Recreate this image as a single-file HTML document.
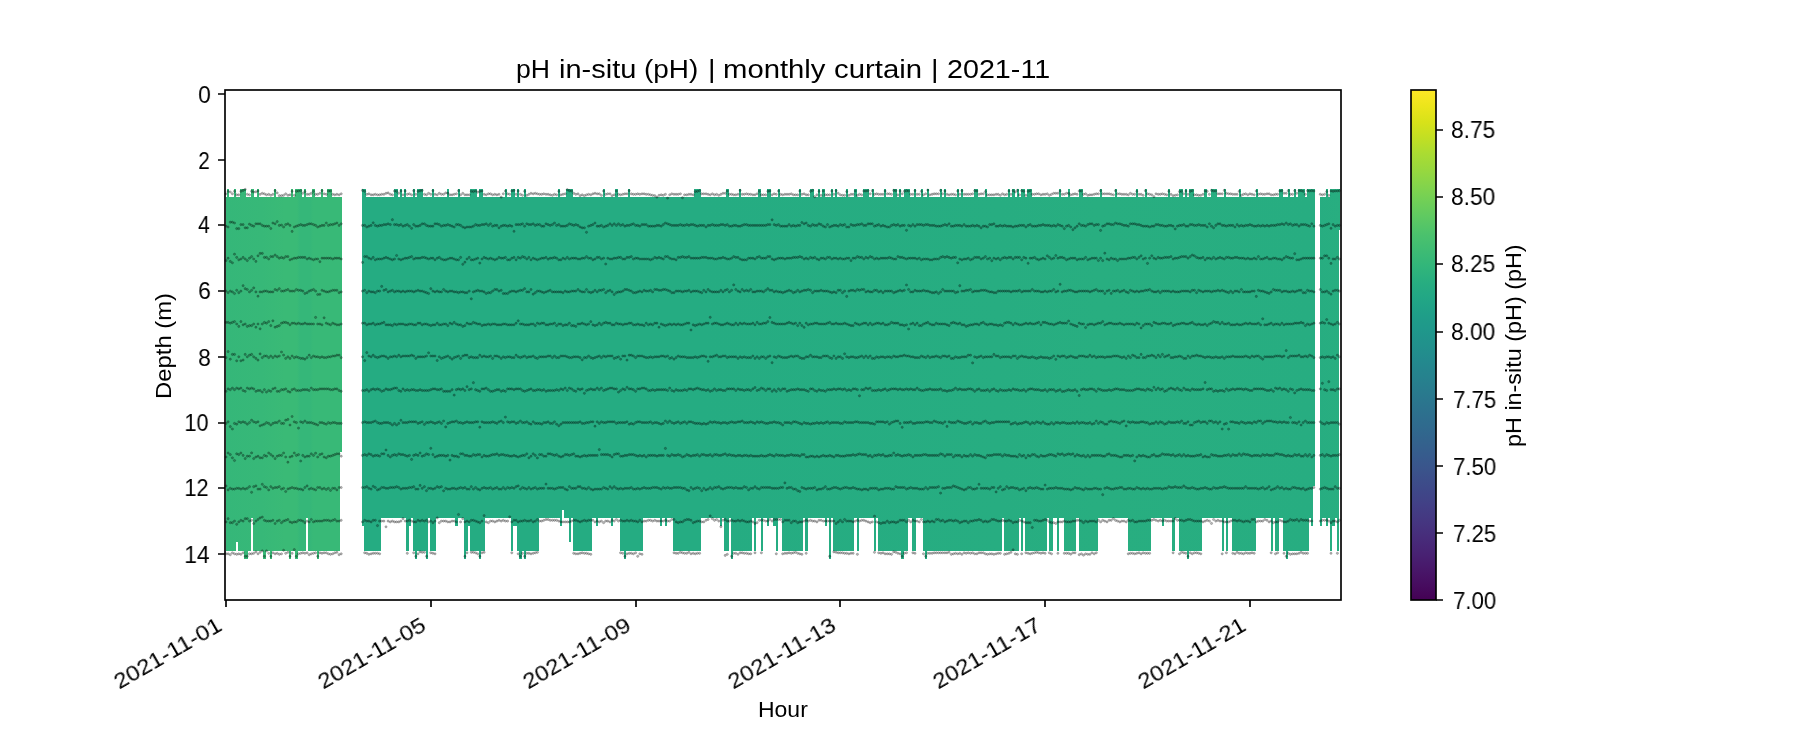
<!DOCTYPE html>
<html><head><meta charset="utf-8"><title>pH in-situ (pH) | monthly curtain | 2021-11</title>
<style>
html,body{margin:0;padding:0;background:#fff}
body{width:1800px;height:750px;position:relative;overflow:hidden;font-family:"Liberation Sans",sans-serif;color:#000}
.t{position:absolute;white-space:nowrap;line-height:1;font-size:21.3px;will-change:transform}
</style></head><body>
<svg width="1800" height="750" viewBox="0 0 1800 750" style="position:absolute;left:0;top:0">
<defs>
<linearGradient id="g" gradientUnits="userSpaceOnUse" x1="225" y1="0" x2="1341" y2="0"><stop offset="0.0009" stop-color="#35b779"/><stop offset="0.0332" stop-color="#37b878"/><stop offset="0.0538" stop-color="#3aba76"/><stop offset="0.0645" stop-color="#3aba76"/><stop offset="0.0672" stop-color="#35b779"/><stop offset="0.0762" stop-color="#35b779"/><stop offset="0.0789" stop-color="#38b977"/><stop offset="0.1047" stop-color="#38b977"/><stop offset="0.1048" stop-color="#25ac82"/><stop offset="0.1228" stop-color="#25ac82"/><stop offset="0.4256" stop-color="#25ac82"/><stop offset="0.6944" stop-color="#27ad81"/><stop offset="0.7841" stop-color="#28ae80"/><stop offset="0.9767" stop-color="#27ad81"/><stop offset="1.0000" stop-color="#28ae80"/></linearGradient>
<linearGradient id="cb" x1="0" y1="0" x2="0" y2="1"><stop offset="0.0000" stop-color="#fde725"/><stop offset="0.0312" stop-color="#ece51b"/><stop offset="0.0625" stop-color="#d8e219"/><stop offset="0.0938" stop-color="#c2df23"/><stop offset="0.1250" stop-color="#aadc32"/><stop offset="0.1562" stop-color="#98d83e"/><stop offset="0.1875" stop-color="#84d44b"/><stop offset="0.2188" stop-color="#70cf57"/><stop offset="0.2500" stop-color="#5ec962"/><stop offset="0.2812" stop-color="#4cc26c"/><stop offset="0.3125" stop-color="#3fbc73"/><stop offset="0.3438" stop-color="#32b67a"/><stop offset="0.3750" stop-color="#28ae80"/><stop offset="0.4062" stop-color="#22a785"/><stop offset="0.4375" stop-color="#1f9f88"/><stop offset="0.4688" stop-color="#1f988b"/><stop offset="0.5000" stop-color="#21918c"/><stop offset="0.5312" stop-color="#23898e"/><stop offset="0.5625" stop-color="#26828e"/><stop offset="0.5938" stop-color="#297a8e"/><stop offset="0.6250" stop-color="#2c728e"/><stop offset="0.6562" stop-color="#2f6b8e"/><stop offset="0.6875" stop-color="#33638d"/><stop offset="0.7188" stop-color="#375b8d"/><stop offset="0.7500" stop-color="#3b528b"/><stop offset="0.7812" stop-color="#3e4989"/><stop offset="0.8125" stop-color="#424086"/><stop offset="0.8438" stop-color="#453781"/><stop offset="0.8750" stop-color="#472d7b"/><stop offset="0.9062" stop-color="#482374"/><stop offset="0.9375" stop-color="#48186a"/><stop offset="0.9688" stop-color="#470d60"/><stop offset="1.0000" stop-color="#440154"/></linearGradient>
<marker id="d" markerUnits="userSpaceOnUse" markerWidth="6" markerHeight="6" refX="3" refY="3" orient="0"><circle cx="3" cy="3" r="1.12" fill="#000" fill-opacity=".28" stroke="#000" stroke-opacity=".28" stroke-width=".75"/></marker>
</defs>
<path d="M225.8 196.9H236V550.6H225.8zM236 196.9H238.1V541.9H236zM238.1 196.9H250.9V550.6H238.1zM250.9 196.9H253V517.5H250.9zM253 196.9H306V550.6H253zM306 196.9H308V517.5H306zM308 196.9H340V550.6H308zM340 196.9H341.9V452H340zM361.9 196.9H561.9V517.5H361.9zM561.9 196.9H564V510H561.9zM564 196.9H1313V517.5H564zM1313 196.9H1315V485.8H1313zM1320 196.9H1339V517.5H1320zM1339 196.9H1340.3V230H1339zM227.1 189H229V197.4H227.1zM234 189H236V197.4H234zM240 189H246V197.4H240zM251.25 189H254V197.4H251.25zM257 189H259V197.4H257zM274 189H276V197.4H274zM291 189H293V197.4H291zM295 189H302V197.4H295zM304 189H306V197.4H304zM312 189H315V197.4H312zM321 189H323V197.4H321zM327 189H332V197.4H327zM362 189H366V197.4H362zM394 189H398V197.4H394zM400 189H402V197.4H400zM404 189H406V197.4H404zM413 189H415V197.4H413zM417 189H423V197.4H417zM432 189H434V197.4H432zM447 189H449V197.4H447zM458 189H460V197.4H458zM470 189H477V197.4H470zM479 189H483V197.4H479zM505 189H507V197.4H505zM511 189H515V197.4H511zM517 189H519V197.4H517zM524 189H526V197.4H524zM558 189H560V197.4H558zM566 189H573V197.4H566zM603 189H605V197.4H603zM615 189H618V197.4H615zM628 189H630V197.4H628zM694 189H701V197.4H694zM726 189H729V197.4H726zM739 189H741V197.4H739zM758 189H761V197.4H758zM767 189H771V197.4H767zM778 189H780V197.4H778zM799 189H801V197.4H799zM810 189H814V197.4H810zM818 189H820V197.4H818zM822 189H825V197.4H822zM831 189H833V197.4H831zM835 189H837V197.4H835zM846 189H848V197.4H846zM854 189H857V197.4H854zM863 189H869V197.4H863zM872 189H874V197.4H872zM884 189H886V197.4H884zM893 189H897V197.4H893zM899 189H901V197.4H899zM904 189H910V197.4H904zM914 189H916V197.4H914zM921 189H923V197.4H921zM927 189H929V197.4H927zM940 189H942V197.4H940zM944 189H946V197.4H944zM957 189H959V197.4H957zM961 189H963V197.4H961zM974 189H978V197.4H974zM985 189H987V197.4H985zM1008 189H1010V197.4H1008zM1012 189H1015V197.4H1012zM1017 189H1019V197.4H1017zM1021 189H1025V197.4H1021zM1027 189H1032V197.4H1027zM1059 189H1061V197.4H1059zM1068 189H1070V197.4H1068zM1079 189H1083V197.4H1079zM1100 189H1102V197.4H1100zM1115 189H1117V197.4H1115zM1136 189H1138V197.4H1136zM1145 189H1147V197.4H1145zM1168 189H1170V197.4H1168zM1179 189H1183V197.4H1179zM1185 189H1187V197.4H1185zM1189 189H1194V197.4H1189zM1204 189H1207V197.4H1204zM1211 189H1217V197.4H1211zM1224 189H1226V197.4H1224zM1239 189H1241V197.4H1239zM1256 189H1258V197.4H1256zM1279 189H1283V197.4H1279zM1288 189H1290V197.4H1288zM1294 189H1296V197.4H1294zM1298 189H1305V197.4H1298zM1307 189H1315V197.4H1307zM1326.2 189H1328V197.4H1326.2zM1330 189H1340.3V197.4H1330zM362 517H364V525.6H362zM408.9 517H411.25V525.6H408.9zM455 517H457.9V525.6H455zM467.75 517H470V525.6H467.75zM512.9 517H516.9V525.6H512.9zM560 517H561.9V525.6H560zM596 517H597.9V525.6H596zM611 517H612.9V525.6H611zM660 517H661.9V525.6H660zM665 517H666.9V525.6H665zM720 517H721.9V525.6H720zM767 517H768.9V525.6H767zM773.1 517H776V525.6H773.1zM825 517H826.9V525.6H825zM1162.1 517H1163.9V525.6H1162.1zM1311 517H1313V525.6H1311zM1320 517H1322V525.6H1320zM1326 517H1328V525.6H1326zM1330 517H1335V525.6H1330zM364 517H380.9V550.6H364zM406 517H408.9V550.6H406zM413.1 517H428.1V550.6H413.1zM430 517H435.9V550.6H430zM464 517H467.75V550.6H464zM470 517H484.75V550.6H470zM511 517H512.9V550.6H511zM516.9 517H539V550.6H516.9zM572.9 517H591.9V550.6H572.9zM620 517H642.9V550.6H620zM673.1 517H700.9V550.6H673.1zM724 517H728.75V550.6H724zM731 517H751.9V550.6H731zM754 517H755.9V550.6H754zM761 517H762.9V550.6H761zM776 517H777.9V550.6H776zM782.1 517H802.9V550.6H782.1zM805 517H807.9V550.6H805zM829 517H830.9V550.6H829zM833.1 517H853.9V550.6H833.1zM857 517H858.9V550.6H857zM874 517H875.9V550.6H874zM878.1 517H907.75V550.6H878.1zM912.1 517H915.9V550.6H912.1zM923.1 517H1001.9V550.6H923.1zM1004.1 517H1018.75V550.6H1004.1zM1021 517H1022.9V550.6H1021zM1025 517H1046.9V550.6H1025zM1049.1 517H1052.9V550.6H1049.1zM1057.1 517H1058.9V550.6H1057.1zM1064 517H1075.9V550.6H1064zM1079.1 517H1097.9V550.6H1079.1zM1128.1 517H1150.9V550.6H1128.1zM1172.1 517H1174.9V550.6H1172.1zM1179.1 517H1201.9V550.6H1179.1zM1222.1 517H1223.9V550.6H1222.1zM1226.1 517H1227.9V550.6H1226.1zM1232.1 517H1255.9V550.6H1232.1zM1271.1 517H1272.9V550.6H1271.1zM1275.1 517H1278.9V550.6H1275.1zM1283.1 517H1308.9V550.6H1283.1zM1330 517H1332V550.6H1330zM1337 517H1339V550.6H1337zM244.1 550.1H247.75V558.75H244.1zM263.1 550.1H265.9V558.75H263.1zM270 550.1H271.9V558.75H270zM289.1 550.1H290.9V558.75H289.1zM295 550.1H297.75V558.75H295zM317.1 550.1H318.75V558.75H317.1zM415 550.1H416.9V558.75H415zM426 550.1H427.9V558.75H426zM464 550.1H465.9V558.75H464zM479 550.1H480.9V558.75H479zM519 550.1H521.9V558.75H519zM524 550.1H525.9V558.75H524zM624 550.1H625.9V558.75H624zM731 550.1H732.9V558.75H731zM829 550.1H830.9V558.75H829zM901 550.1H903.75V558.75H901zM925 550.1H926.9V558.75H925zM1187.1 550.1H1188.9V558.75H1187.1zM1286.1 550.1H1287.9V558.75H1286.1zM569.1 517H570.9V541.6H569.1z" fill="url(#g)" shape-rendering="crispEdges"/>
<g fill="none" stroke="none" marker-start="url(#d)" marker-mid="url(#d)" marker-end="url(#d)">
<polyline points="226.0,193.8 228.1,191.3 230.3,192.0 232.4,193.8 234.5,191.3 236.7,194.8 238.8,194.8 240.9,191.3 243.1,190.4 245.2,189.4 247.3,194.3 249.5,194.8 251.6,191.3 253.7,192.0 255.9,191.8 258.0,191.0 260.1,194.3 262.3,193.3 264.4,193.8 266.5,194.8 268.7,194.3 270.8,195.3 272.9,194.3 275.1,190.7 277.2,192.9 279.3,195.7 281.5,195.7 283.6,195.3 285.7,193.8 287.9,195.3 290.0,194.8 292.1,191.3 294.3,195.3 296.4,191.3 298.5,191.0 300.7,190.7 302.8,193.3 304.9,191.6 307.1,194.3 309.2,194.3 311.3,193.3 313.5,191.3 315.6,194.3 317.7,194.3 319.9,193.3 322.0,190.7 324.1,193.8 326.3,194.3 328.4,191.0 330.5,191.0 332.7,194.3 334.8,194.8 336.9,194.3 339.1,194.8 341.2,193.8 362.5,190.4 364.7,191.3 366.8,194.3 368.9,193.8 371.1,194.8 373.2,194.8 375.3,194.3 377.5,194.8 379.6,194.8 381.7,194.3 383.9,194.3 386.0,193.3 388.1,192.9 390.3,194.3 392.4,194.8 394.5,191.0 396.6,191.3 398.8,193.3 400.9,191.0 403.0,194.8 405.2,191.0 407.3,194.3 409.4,193.8 411.6,194.8 413.7,190.7 415.8,194.3 418.0,191.3 420.1,190.7 422.2,190.4 424.4,194.3 426.5,194.8 428.6,193.3 430.8,194.3 432.9,190.7 435.0,194.3 437.2,194.8 439.3,193.3 441.4,194.3 443.6,194.3 445.7,192.9 447.8,193.2 450.0,194.8 452.1,194.8 454.2,194.3 456.4,193.8 458.5,190.7 460.6,194.8 462.8,193.3 464.9,194.8 467.0,194.8 469.2,194.8 471.3,191.3 473.4,191.6 475.6,191.0 477.7,192.2 479.8,191.3 482.0,191.0 484.1,194.3 486.2,194.8 488.4,193.8 490.5,193.8 492.6,194.8 494.8,194.3 496.9,194.8 499.0,194.3 501.2,197.1 503.3,193.8 505.4,191.0 507.6,193.8 509.7,194.3 511.8,191.0 514.0,190.4 516.1,194.3 518.2,191.0 520.4,194.3 522.5,195.3 524.6,191.3 526.8,195.3 528.9,194.3 531.0,193.3 533.2,193.8 535.3,193.3 537.4,193.8 539.6,194.3 541.7,194.3 543.8,193.8 546.0,194.3 548.1,194.3 550.2,194.8 552.4,195.3 554.5,194.3 556.6,194.8 558.8,191.3 560.9,194.8 563.0,194.3 565.2,193.8 567.3,189.7 569.4,190.7 571.6,191.0 573.7,193.3 575.8,194.3 578.0,193.8 580.1,195.7 582.2,194.8 584.4,195.7 586.5,194.8 588.6,194.3 590.8,194.8 592.9,193.8 595.0,193.3 597.2,193.8 599.3,193.8 601.4,195.3 603.6,191.0 605.7,194.3 607.8,193.8 610.0,193.8 612.1,195.7 614.2,194.8 616.4,191.0 618.5,194.3 620.6,194.8 622.8,194.3 624.9,193.8 627.0,193.8 629.2,190.7 631.3,193.8 633.4,194.3 635.6,194.3 637.7,193.8 639.8,194.3 642.0,193.8 644.1,193.8 646.2,194.3 648.4,194.3 650.5,194.8 652.6,195.3 654.8,195.7 656.9,197.1 659.0,195.3 661.2,194.8 663.3,195.3 665.4,194.3 667.6,198.1 669.7,194.8 671.8,193.8 674.0,194.3 676.1,194.3 678.2,194.3 680.4,193.8 682.5,197.7 684.6,194.8 686.8,194.8 688.9,194.3 691.0,194.3 693.2,194.8 695.3,191.6 697.4,191.3 699.6,190.7 701.7,193.8 703.8,193.8 706.0,193.8 708.1,194.3 710.2,194.8 712.4,193.8 714.5,194.8 716.6,194.3 718.8,195.3 720.9,194.3 723.0,193.3 725.2,193.3 727.3,191.0 729.4,194.3 731.6,194.3 733.7,194.8 735.8,194.8 738.0,194.3 740.1,190.4 742.2,194.3 744.3,194.3 746.5,193.8 748.6,194.3 750.7,194.3 752.9,194.8 755.0,194.8 757.1,193.8 759.3,191.3 761.4,194.8 763.5,194.8 765.7,194.8 767.8,191.3 769.9,191.0 772.1,194.8 774.2,193.8 776.3,194.3 778.5,191.0 780.6,194.3 782.7,194.8 784.9,194.3 787.0,194.3 789.1,194.3 791.3,193.8 793.4,194.8 795.5,194.8 797.7,194.8 799.8,191.0 801.9,194.3 804.1,193.8 806.2,194.8 808.3,194.8 810.5,191.3 812.6,190.4 814.7,196.7 816.9,194.8 819.0,191.3 821.1,195.3 823.3,191.0 825.4,194.8 827.5,194.8 829.7,194.8 831.8,191.0 833.9,194.3 836.1,190.7 838.2,193.3 840.3,194.8 842.5,195.3 844.6,195.3 846.7,191.6 848.9,195.3 851.0,194.3 853.1,194.3 855.3,191.0 857.4,195.3 859.5,194.3 861.7,194.8 863.8,191.0 865.9,191.0 868.1,190.7 870.2,193.8 872.3,190.7 874.5,194.3 876.6,193.8 878.7,194.3 880.9,194.3 883.0,194.3 885.1,191.0 887.3,193.8 889.4,193.8 891.5,194.3 893.7,190.4 895.8,190.7 897.9,194.8 900.1,191.0 902.2,193.8 904.3,191.3 906.5,190.7 908.6,191.0 910.7,194.3 912.9,194.3 915.0,190.7 917.1,194.3 919.3,194.3 921.4,191.3 923.5,194.8 925.7,193.8 927.8,190.1 929.9,194.8 932.1,194.3 934.2,193.8 936.3,193.8 938.5,193.8 940.6,190.4 942.7,193.8 944.9,191.0 947.0,194.3 949.1,194.8 951.3,194.3 953.4,194.3 955.5,194.8 957.7,191.0 959.8,194.3 961.9,190.7 964.1,194.3 966.2,194.3 968.3,194.3 970.5,194.3 972.6,193.8 974.7,190.7 976.9,191.0 979.0,194.3 981.1,193.8 983.3,193.8 985.4,191.6 987.5,194.8 989.7,194.8 991.8,194.8 993.9,194.8 996.1,194.3 998.2,194.3 1000.3,195.3 1002.5,193.8 1004.6,194.8 1006.7,194.3 1008.9,191.0 1011.0,194.3 1013.1,190.7 1015.3,191.9 1017.4,190.4 1019.5,194.8 1021.7,190.7 1023.8,191.3 1025.9,195.3 1028.1,191.3 1030.2,190.7 1032.3,194.3 1034.5,194.3 1036.6,193.8 1038.7,193.8 1040.9,194.8 1043.0,194.3 1045.1,194.3 1047.3,193.8 1049.4,195.3 1051.5,194.3 1053.7,193.3 1055.8,193.3 1057.9,193.3 1060.1,191.0 1062.2,194.3 1064.3,194.3 1066.5,193.3 1068.6,193.3 1070.7,194.8 1072.9,194.3 1075.0,193.8 1077.1,194.3 1079.2,191.0 1081.4,191.0 1083.5,194.3 1085.6,193.8 1087.8,195.3 1089.9,194.8 1092.0,194.8 1094.2,194.3 1096.3,193.8 1098.4,193.8 1100.6,190.7 1102.7,193.8 1104.8,193.8 1107.0,193.8 1109.1,193.8 1111.2,194.3 1113.4,194.8 1115.5,190.7 1117.6,193.8 1119.8,193.8 1121.9,194.3 1124.0,194.3 1126.2,194.3 1128.3,194.8 1130.4,193.3 1132.6,194.3 1134.7,194.3 1136.8,191.3 1139.0,194.3 1141.1,194.3 1143.2,195.3 1145.4,190.7 1147.5,193.8 1149.6,194.3 1151.8,194.8 1153.9,196.6 1156.0,193.8 1158.2,194.3 1160.3,194.3 1162.4,193.8 1164.6,194.3 1166.7,194.8 1168.8,191.3 1171.0,194.3 1173.1,195.7 1175.2,195.3 1177.4,194.8 1179.5,191.6 1181.6,191.3 1183.8,193.8 1185.9,191.0 1188.0,194.3 1190.2,191.3 1192.3,190.7 1194.4,194.8 1196.6,194.8 1198.7,195.3 1200.8,195.3 1203.0,194.3 1205.1,191.0 1207.2,191.3 1209.4,194.3 1211.5,190.4 1213.6,191.0 1215.8,191.0 1217.9,193.8 1220.0,193.8 1222.2,193.8 1224.3,190.4 1226.4,193.3 1228.6,193.8 1230.7,193.8 1232.8,194.3 1235.0,194.3 1237.1,194.3 1239.2,191.3 1241.4,195.3 1243.5,194.3 1245.6,193.8 1247.8,194.8 1249.9,193.8 1252.0,194.3 1254.2,194.8 1256.3,191.0 1258.4,194.3 1260.6,193.8 1262.7,194.3 1264.8,194.3 1267.0,193.8 1269.1,193.8 1271.2,194.8 1273.4,194.8 1275.5,194.3 1277.6,194.3 1279.8,191.0 1281.9,190.7 1284.0,193.3 1286.2,193.3 1288.3,190.7 1290.4,194.3 1292.6,194.3 1294.7,190.7 1296.8,193.3 1299.0,190.7 1301.1,190.7 1303.2,191.3 1305.4,194.3 1307.5,190.7 1309.6,191.0 1311.8,190.7 1313.9,191.0 1320.3,194.3 1322.4,194.8 1324.6,194.3 1326.7,191.6 1328.8,195.3 1331.0,191.0 1333.1,191.3 1335.2,191.0 1337.4,191.0 1339.5,190.7"/>
<polyline points="226.0,226.2 228.1,227.0 230.3,222.2 232.4,222.2 234.5,223.0 236.7,228.6 238.8,228.6 240.9,224.6 243.1,224.6 245.2,227.8 247.3,227.8 249.5,224.2 251.6,225.4 253.7,226.2 255.9,223.8 258.0,223.8 260.1,223.8 262.3,225.4 264.4,226.2 266.5,226.2 268.7,226.2 270.8,228.5 272.9,223.0 275.1,223.8 277.2,221.6 279.3,225.4 281.5,225.1 283.6,227.0 285.7,224.6 287.9,223.8 290.0,225.4 292.1,231.4 294.3,227.0 296.4,226.2 298.5,225.4 300.7,224.6 302.8,225.4 304.9,225.4 307.1,224.6 309.2,223.8 311.3,223.8 313.5,224.6 315.6,225.4 317.7,227.0 319.9,226.2 322.0,225.4 324.1,225.4 326.3,223.0 328.4,225.4 330.5,224.6 332.7,224.6 334.8,223.8 336.9,223.0 339.1,225.4 341.2,223.8 362.5,225.4 364.7,225.4 366.8,227.0 368.9,226.2 371.1,225.4 373.2,222.8 375.3,225.4 377.5,226.2 379.6,225.4 381.7,225.4 383.9,224.6 386.0,224.6 388.1,223.8 390.3,224.6 392.4,219.7 394.5,224.6 396.6,224.6 398.8,225.4 400.9,224.6 403.0,226.2 405.2,225.4 407.3,224.6 409.4,226.2 411.6,228.3 413.7,224.6 415.8,226.2 418.0,226.2 420.1,225.4 422.2,223.8 424.4,223.8 426.5,225.4 428.6,226.2 430.8,226.2 432.9,226.2 435.0,223.8 437.2,223.8 439.3,224.6 441.4,226.2 443.6,225.4 445.7,225.4 447.8,224.6 450.0,225.4 452.1,226.2 454.2,227.0 456.4,224.6 458.5,224.6 460.6,225.4 462.8,227.0 464.9,227.8 467.0,227.0 469.2,227.0 471.3,227.0 473.4,226.2 475.6,224.6 477.7,225.4 479.8,225.4 482.0,224.6 484.1,224.6 486.2,223.8 488.4,225.4 490.5,223.8 492.6,226.2 494.8,225.4 496.9,225.4 499.0,227.8 501.2,226.2 503.3,225.4 505.4,225.4 507.6,226.2 509.7,225.4 511.8,226.2 514.0,231.3 516.1,224.6 518.2,224.6 520.4,224.6 522.5,223.8 524.6,226.2 526.8,223.8 528.9,224.6 531.0,224.6 533.2,223.8 535.3,225.4 537.4,224.6 539.6,224.6 541.7,226.2 543.8,226.2 546.0,223.8 548.1,224.6 550.2,225.4 552.4,224.6 554.5,223.0 556.6,225.4 558.8,224.6 560.9,226.2 563.0,226.2 565.2,226.2 567.3,225.4 569.4,223.8 571.6,224.6 573.7,225.4 575.8,224.6 578.0,225.4 580.1,227.0 582.2,227.8 584.4,227.8 586.5,232.3 588.6,226.2 590.8,225.4 592.9,224.6 595.0,223.0 597.2,226.2 599.3,226.2 601.4,225.4 603.6,227.0 605.7,226.2 607.8,225.4 610.0,223.8 612.1,225.4 614.2,223.8 616.4,225.4 618.5,223.8 620.6,225.4 622.8,224.6 624.9,226.2 627.0,225.4 629.2,225.4 631.3,224.6 633.4,223.8 635.6,225.4 637.7,225.4 639.8,226.2 642.0,224.6 644.1,224.6 646.2,224.6 648.4,226.2 650.5,226.2 652.6,226.2 654.8,226.2 656.9,225.4 659.0,225.4 661.2,226.2 663.3,224.6 665.4,223.0 667.6,223.8 669.7,224.6 671.8,225.4 674.0,225.4 676.1,225.4 678.2,225.4 680.4,224.6 682.5,225.4 684.6,225.4 686.8,224.6 688.9,225.4 691.0,224.6 693.2,224.6 695.3,225.4 697.4,226.2 699.6,225.4 701.7,225.4 703.8,225.4 706.0,227.0 708.1,225.4 710.2,225.4 712.4,224.6 714.5,225.4 716.6,225.4 718.8,225.4 720.9,224.6 723.0,224.6 725.2,225.4 727.3,224.6 729.4,226.2 731.6,226.2 733.7,225.4 735.8,225.4 738.0,226.2 740.1,226.2 742.2,225.4 744.3,224.6 746.5,224.6 748.6,225.4 750.7,225.4 752.9,225.4 755.0,225.4 757.1,225.4 759.3,225.4 761.4,225.4 763.5,225.4 765.7,225.4 767.8,224.6 769.9,224.6 772.1,219.8 774.2,224.6 776.3,225.4 778.5,224.6 780.6,226.2 782.7,226.2 784.9,226.2 787.0,226.2 789.1,224.6 791.3,226.2 793.4,225.4 795.5,226.2 797.7,225.4 799.8,225.4 801.9,222.5 804.1,223.8 806.2,223.0 808.3,225.4 810.5,226.2 812.6,224.6 814.7,225.4 816.9,225.4 819.0,223.8 821.1,224.6 823.3,226.2 825.4,227.0 827.5,224.6 829.7,227.0 831.8,226.2 833.9,225.4 836.1,225.4 838.2,226.2 840.3,224.6 842.5,225.4 844.6,224.6 846.7,227.0 848.9,227.0 851.0,224.6 853.1,225.4 855.3,225.4 857.4,224.6 859.5,224.6 861.7,223.8 863.8,225.4 865.9,225.4 868.1,223.8 870.2,223.8 872.3,223.8 874.5,226.2 876.6,225.4 878.7,224.6 880.9,226.2 883.0,225.4 885.1,226.2 887.3,227.0 889.4,227.0 891.5,225.4 893.7,224.6 895.8,225.4 897.9,224.6 900.1,226.2 902.2,225.4 904.3,225.4 906.5,230.3 908.6,225.4 910.7,226.2 912.9,224.6 915.0,226.2 917.1,224.6 919.3,224.6 921.4,224.6 923.5,225.4 925.7,224.6 927.8,224.6 929.9,225.4 932.1,225.4 934.2,225.4 936.3,226.2 938.5,226.2 940.6,226.2 942.7,225.4 944.9,224.6 947.0,225.4 949.1,223.8 951.3,226.2 953.4,226.2 955.5,225.4 957.7,225.4 959.8,225.4 961.9,226.2 964.1,224.6 966.2,226.2 968.3,226.2 970.5,226.2 972.6,225.4 974.7,226.2 976.9,225.4 979.0,226.2 981.1,227.8 983.3,226.2 985.4,226.2 987.5,227.0 989.7,224.6 991.8,224.6 993.9,223.8 996.1,226.2 998.2,226.2 1000.3,225.4 1002.5,226.2 1004.6,225.4 1006.7,226.2 1008.9,226.2 1011.0,226.2 1013.1,227.0 1015.3,226.2 1017.4,226.2 1019.5,225.4 1021.7,225.4 1023.8,225.4 1025.9,227.0 1028.1,225.4 1030.2,224.6 1032.3,226.2 1034.5,226.2 1036.6,226.2 1038.7,225.4 1040.9,225.4 1043.0,224.6 1045.1,225.4 1047.3,225.4 1049.4,225.4 1051.5,226.2 1053.7,225.4 1055.8,226.2 1057.9,224.6 1060.1,225.4 1062.2,226.2 1064.3,228.6 1066.5,226.2 1068.6,225.4 1070.7,227.0 1072.9,229.7 1075.0,227.8 1077.1,226.2 1079.2,223.8 1081.4,225.4 1083.5,225.4 1085.6,226.2 1087.8,224.6 1089.9,223.8 1092.0,223.8 1094.2,225.4 1096.3,224.6 1098.4,224.6 1100.6,230.4 1102.7,226.2 1104.8,225.4 1107.0,223.8 1109.1,223.8 1111.2,224.6 1113.4,224.6 1115.5,223.0 1117.6,223.8 1119.8,223.8 1121.9,224.6 1124.0,225.4 1126.2,225.4 1128.3,226.2 1130.4,223.8 1132.6,223.8 1134.7,223.8 1136.8,224.6 1139.0,224.6 1141.1,225.4 1143.2,226.2 1145.4,226.2 1147.5,226.2 1149.6,227.0 1151.8,226.2 1153.9,226.2 1156.0,224.6 1158.2,224.6 1160.3,225.4 1162.4,225.4 1164.6,226.2 1166.7,226.2 1168.8,225.4 1171.0,225.4 1173.1,226.2 1175.2,228.9 1177.4,226.2 1179.5,225.4 1181.6,225.4 1183.8,224.6 1185.9,226.2 1188.0,226.2 1190.2,224.6 1192.3,224.6 1194.4,225.4 1196.6,225.4 1198.7,224.6 1200.8,225.4 1203.0,225.4 1205.1,225.4 1207.2,227.0 1209.4,223.8 1211.5,226.2 1213.6,227.8 1215.8,225.4 1217.9,223.8 1220.0,223.8 1222.2,225.4 1224.3,225.4 1226.4,226.2 1228.6,225.4 1230.7,225.4 1232.8,225.4 1235.0,227.0 1237.1,224.6 1239.2,226.2 1241.4,225.4 1243.5,226.2 1245.6,225.4 1247.8,225.4 1249.9,224.6 1252.0,225.4 1254.2,226.2 1256.3,226.2 1258.4,225.4 1260.6,226.2 1262.7,225.4 1264.8,226.2 1267.0,225.4 1269.1,226.2 1271.2,225.4 1273.4,225.4 1275.5,225.4 1277.6,224.6 1279.8,224.6 1281.9,223.8 1284.0,224.6 1286.2,223.0 1288.3,224.6 1290.4,223.8 1292.6,225.4 1294.7,224.6 1296.8,224.6 1299.0,226.2 1301.1,224.6 1303.2,224.6 1305.4,224.6 1307.5,225.4 1309.6,226.2 1311.8,223.8 1313.9,226.2 1320.3,225.4 1322.4,226.2 1324.6,225.4 1326.7,224.6 1328.8,223.8 1331.0,228.3 1333.1,224.6 1335.2,226.2 1337.4,225.4 1339.5,225.4"/>
<polyline points="226.0,260.6 228.1,258.2 230.3,261.4 232.4,262.8 234.5,254.2 236.7,257.4 238.8,259.8 240.9,259.0 243.1,257.4 245.2,259.0 247.3,260.6 249.5,258.2 251.6,256.6 253.7,259.0 255.9,261.4 258.0,255.8 260.1,253.4 262.3,253.4 264.4,257.4 266.5,257.4 268.7,259.0 270.8,256.6 272.9,256.6 275.1,255.0 277.2,256.6 279.3,258.2 281.5,257.4 283.6,258.2 285.7,256.6 287.9,256.6 290.0,259.8 292.1,259.0 294.3,258.2 296.4,258.2 298.5,257.4 300.7,257.4 302.8,257.4 304.9,257.4 307.1,259.0 309.2,258.2 311.3,259.0 313.5,259.8 315.6,259.0 317.7,259.0 319.9,261.7 322.0,258.2 324.1,258.2 326.3,258.2 328.4,258.2 330.5,258.2 332.7,259.0 334.8,258.2 336.9,258.2 339.1,258.2 341.2,259.0 362.5,262.4 364.7,256.6 366.8,256.6 368.9,258.2 371.1,259.0 373.2,257.4 375.3,259.8 377.5,259.0 379.6,259.0 381.7,259.0 383.9,258.2 386.0,257.4 388.1,258.2 390.3,259.0 392.4,259.8 394.5,259.0 396.6,255.5 398.8,259.0 400.9,259.8 403.0,259.0 405.2,258.2 407.3,258.2 409.4,257.4 411.6,256.6 413.7,259.0 415.8,258.2 418.0,258.2 420.1,258.2 422.2,257.4 424.4,257.4 426.5,258.2 428.6,259.0 430.8,258.2 432.9,258.2 435.0,259.8 437.2,258.2 439.3,257.4 441.4,259.0 443.6,259.8 445.7,259.8 447.8,259.0 450.0,258.2 452.1,258.2 454.2,259.0 456.4,259.8 458.5,259.8 460.6,257.4 462.8,264.3 464.9,262.2 467.0,259.0 469.2,257.4 471.3,259.8 473.4,259.8 475.6,259.0 477.7,258.2 479.8,263.1 482.0,259.0 484.1,257.4 486.2,258.2 488.4,259.0 490.5,258.2 492.6,259.0 494.8,259.8 496.9,259.0 499.0,257.4 501.2,258.2 503.3,258.2 505.4,257.4 507.6,259.8 509.7,259.8 511.8,258.2 514.0,257.4 516.1,259.8 518.2,257.4 520.4,258.2 522.5,256.6 524.6,257.4 526.8,259.0 528.9,257.4 531.0,259.8 533.2,258.2 535.3,259.0 537.4,259.8 539.6,259.0 541.7,258.2 543.8,258.2 546.0,257.4 548.1,259.2 550.2,258.2 552.4,258.2 554.5,257.4 556.6,258.2 558.8,259.8 560.9,259.8 563.0,258.2 565.2,259.0 567.3,257.4 569.4,259.0 571.6,258.2 573.7,258.2 575.8,258.2 578.0,259.0 580.1,259.0 582.2,258.2 584.4,258.2 586.5,256.6 588.6,258.2 590.8,258.2 592.9,259.8 595.0,259.0 597.2,257.4 599.3,257.4 601.4,259.0 603.6,258.2 605.7,264.0 607.8,258.2 610.0,259.0 612.1,259.0 614.2,258.2 616.4,258.2 618.5,257.4 620.6,257.4 622.8,259.0 624.9,259.0 627.0,257.4 629.2,257.4 631.3,256.6 633.4,259.0 635.6,258.2 637.7,258.2 639.8,259.0 642.0,259.0 644.1,259.0 646.2,259.0 648.4,259.0 650.5,259.8 652.6,259.0 654.8,257.4 656.9,258.2 659.0,257.4 661.2,258.2 663.3,259.0 665.4,256.6 667.6,256.6 669.7,258.2 671.8,259.0 674.0,259.0 676.1,259.8 678.2,257.4 680.4,257.4 682.5,256.6 684.6,257.4 686.8,257.4 688.9,256.6 691.0,258.2 693.2,258.2 695.3,258.2 697.4,258.2 699.6,258.2 701.7,257.4 703.8,257.4 706.0,257.4 708.1,258.2 710.2,258.2 712.4,258.2 714.5,259.0 716.6,259.0 718.8,258.2 720.9,258.2 723.0,257.4 725.2,258.2 727.3,259.0 729.4,259.0 731.6,258.2 733.7,256.6 735.8,257.4 738.0,257.4 740.1,259.0 742.2,259.8 744.3,259.8 746.5,259.8 748.6,258.2 750.7,258.2 752.9,258.2 755.0,259.0 757.1,257.4 759.3,256.6 761.4,258.2 763.5,258.2 765.7,258.2 767.8,256.6 769.9,256.6 772.1,259.0 774.2,259.8 776.3,259.0 778.5,258.2 780.6,258.2 782.7,258.2 784.9,259.0 787.0,258.2 789.1,258.2 791.3,258.2 793.4,257.4 795.5,257.4 797.7,257.4 799.8,256.6 801.9,257.4 804.1,259.0 806.2,258.2 808.3,259.0 810.5,257.4 812.6,258.2 814.7,257.4 816.9,259.0 819.0,259.8 821.1,258.2 823.3,258.2 825.4,259.0 827.5,257.4 829.7,257.4 831.8,259.0 833.9,258.2 836.1,258.2 838.2,259.0 840.3,258.2 842.5,259.0 844.6,259.0 846.7,258.2 848.9,258.2 851.0,260.6 853.1,258.2 855.3,258.2 857.4,256.6 859.5,257.4 861.7,257.4 863.8,259.0 865.9,257.4 868.1,258.2 870.2,256.6 872.3,257.4 874.5,259.0 876.6,258.2 878.7,259.0 880.9,258.2 883.0,258.2 885.1,258.2 887.3,258.2 889.4,257.4 891.5,258.2 893.7,259.0 895.8,259.0 897.9,256.6 900.1,257.4 902.2,257.4 904.3,258.2 906.5,259.0 908.6,258.2 910.7,258.2 912.9,258.2 915.0,258.2 917.1,259.0 919.3,258.2 921.4,259.8 923.5,259.0 925.7,259.0 927.8,259.0 929.9,259.8 932.1,259.8 934.2,259.0 936.3,259.0 938.5,259.0 940.6,257.4 942.7,256.6 944.9,257.4 947.0,256.6 949.1,257.4 951.3,258.2 953.4,257.4 955.5,257.4 957.7,262.8 959.8,259.0 961.9,259.8 964.1,259.0 966.2,259.0 968.3,258.2 970.5,259.8 972.6,259.0 974.7,257.4 976.9,257.4 979.0,257.4 981.1,259.0 983.3,258.2 985.4,256.6 987.5,259.0 989.7,258.2 991.8,260.7 993.9,258.2 996.1,259.0 998.2,258.2 1000.3,259.8 1002.5,258.2 1004.6,257.4 1006.7,258.2 1008.9,257.4 1011.0,257.4 1013.1,259.0 1015.3,257.4 1017.4,257.4 1019.5,257.4 1021.7,259.8 1023.8,257.4 1025.9,258.2 1028.1,263.3 1030.2,258.2 1032.3,258.2 1034.5,257.4 1036.6,259.0 1038.7,259.8 1040.9,259.0 1043.0,258.2 1045.1,259.0 1047.3,255.8 1049.4,257.4 1051.5,259.0 1053.7,258.2 1055.8,255.5 1057.9,258.2 1060.1,257.4 1062.2,257.4 1064.3,258.2 1066.5,259.8 1068.6,259.0 1070.7,258.2 1072.9,258.2 1075.0,258.2 1077.1,259.8 1079.2,259.0 1081.4,259.0 1083.5,259.0 1085.6,257.4 1087.8,259.8 1089.9,259.0 1092.0,258.2 1094.2,258.2 1096.3,258.2 1098.4,260.5 1100.6,258.2 1102.7,260.6 1104.8,253.2 1107.0,259.0 1109.1,259.8 1111.2,258.2 1113.4,259.0 1115.5,259.0 1117.6,260.6 1119.8,259.0 1121.9,259.0 1124.0,259.0 1126.2,259.0 1128.3,258.2 1130.4,258.2 1132.6,257.4 1134.7,257.4 1136.8,259.0 1139.0,257.4 1141.1,255.8 1143.2,259.0 1145.4,258.2 1147.5,263.4 1149.6,258.2 1151.8,255.8 1153.9,258.2 1156.0,259.0 1158.2,257.4 1160.3,258.2 1162.4,258.2 1164.6,257.4 1166.7,257.4 1168.8,257.4 1171.0,256.6 1173.1,259.0 1175.2,258.2 1177.4,258.2 1179.5,257.4 1181.6,256.6 1183.8,256.6 1185.9,256.6 1188.0,258.2 1190.2,256.6 1192.3,255.0 1194.4,255.8 1196.6,257.4 1198.7,258.2 1200.8,258.2 1203.0,257.4 1205.1,259.8 1207.2,258.2 1209.4,258.2 1211.5,259.0 1213.6,257.4 1215.8,259.0 1217.9,258.2 1220.0,257.4 1222.2,258.2 1224.3,259.0 1226.4,257.4 1228.6,257.4 1230.7,258.2 1232.8,258.2 1235.0,257.4 1237.1,257.4 1239.2,258.2 1241.4,258.2 1243.5,258.2 1245.6,259.0 1247.8,258.2 1249.9,259.0 1252.0,259.0 1254.2,258.2 1256.3,259.0 1258.4,256.6 1260.6,259.0 1262.7,259.0 1264.8,258.2 1267.0,257.4 1269.1,259.0 1271.2,259.0 1273.4,258.2 1275.5,258.2 1277.6,259.0 1279.8,259.0 1281.9,259.8 1284.0,258.2 1286.2,256.6 1288.3,257.4 1290.4,258.2 1292.6,258.2 1294.7,253.7 1296.8,259.8 1299.0,259.8 1301.1,259.0 1303.2,258.2 1305.4,258.2 1307.5,258.2 1309.6,258.2 1311.8,258.2 1313.9,258.2 1320.3,258.2 1322.4,258.2 1324.6,255.8 1326.7,255.8 1328.8,258.2 1331.0,263.4 1333.1,259.0 1335.2,259.0 1337.4,257.4 1339.5,259.0"/>
<polyline points="226.0,291.1 228.1,292.7 230.3,291.1 232.4,291.9 234.5,293.5 236.7,290.3 238.8,292.7 240.9,291.1 243.1,285.7 245.2,288.7 247.3,289.5 249.5,291.9 251.6,290.3 253.7,287.9 255.9,291.9 258.0,296.2 260.1,291.9 262.3,291.9 264.4,291.1 266.5,291.1 268.7,291.9 270.8,291.9 272.9,291.9 275.1,289.5 277.2,290.3 279.3,288.7 281.5,291.1 283.6,291.1 285.7,290.3 287.9,289.5 290.0,291.1 292.1,291.1 294.3,291.1 296.4,289.5 298.5,290.3 300.7,290.3 302.8,291.1 304.9,293.5 307.1,292.7 309.2,291.1 311.3,290.3 313.5,289.5 315.6,291.1 317.7,294.5 319.9,294.3 322.0,290.3 324.1,291.1 326.3,291.9 328.4,291.9 330.5,291.1 332.7,290.3 334.8,290.3 336.9,290.3 339.1,292.7 341.2,291.9 362.5,291.1 364.7,290.3 366.8,292.7 368.9,291.1 371.1,291.9 373.2,291.9 375.3,292.7 377.5,291.1 379.6,291.1 381.7,286.4 383.9,290.3 386.0,289.5 388.1,291.9 390.3,291.1 392.4,290.3 394.5,291.9 396.6,291.1 398.8,291.1 400.9,291.9 403.0,291.1 405.2,291.9 407.3,291.1 409.4,291.1 411.6,291.1 413.7,291.9 415.8,291.1 418.0,290.3 420.1,291.1 422.2,291.1 424.4,291.9 426.5,292.7 428.6,293.5 430.8,288.7 432.9,291.1 435.0,291.9 437.2,291.1 439.3,291.9 441.4,291.9 443.6,289.5 445.7,291.1 447.8,291.9 450.0,291.1 452.1,291.1 454.2,291.9 456.4,291.9 458.5,292.7 460.6,291.9 462.8,291.9 464.9,292.7 467.0,292.7 469.2,291.1 471.3,298.8 473.4,291.9 475.6,291.1 477.7,290.3 479.8,291.1 482.0,291.1 484.1,291.9 486.2,293.5 488.4,292.7 490.5,292.7 492.6,291.1 494.8,289.5 496.9,289.5 499.0,291.1 501.2,290.3 503.3,293.5 505.4,293.5 507.6,293.5 509.7,291.9 511.8,291.1 514.0,291.1 516.1,291.9 518.2,291.1 520.4,290.3 522.5,290.3 524.6,288.7 526.8,291.9 528.9,291.9 531.0,289.5 533.2,294.2 535.3,292.7 537.4,291.1 539.6,291.1 541.7,291.9 543.8,292.7 546.0,291.9 548.1,291.1 550.2,290.3 552.4,291.9 554.5,291.9 556.6,291.9 558.8,291.9 560.9,291.9 563.0,292.7 565.2,291.1 567.3,291.9 569.4,291.9 571.6,291.1 573.7,291.1 575.8,291.1 578.0,289.5 580.1,291.1 582.2,291.9 584.4,291.9 586.5,289.5 588.6,291.9 590.8,292.7 592.9,291.9 595.0,290.3 597.2,291.9 599.3,290.3 601.4,290.3 603.6,289.5 605.7,292.7 607.8,291.1 610.0,290.3 612.1,291.9 614.2,294.5 616.4,292.7 618.5,291.9 620.6,291.9 622.8,291.1 624.9,289.5 627.0,289.5 629.2,290.3 631.3,291.1 633.4,292.7 635.6,292.7 637.7,291.9 639.8,291.1 642.0,291.9 644.1,290.3 646.2,291.1 648.4,291.1 650.5,290.3 652.6,291.9 654.8,289.5 656.9,289.5 659.0,290.3 661.2,290.3 663.3,289.5 665.4,289.5 667.6,290.3 669.7,291.1 671.8,292.7 674.0,292.7 676.1,291.1 678.2,291.1 680.4,291.1 682.5,291.9 684.6,291.1 686.8,291.1 688.9,290.3 691.0,291.9 693.2,291.1 695.3,291.1 697.4,291.1 699.6,291.9 701.7,292.7 703.8,290.3 706.0,291.9 708.1,289.5 710.2,291.1 712.4,291.9 714.5,291.9 716.6,291.9 718.8,291.9 720.9,290.3 723.0,291.9 725.2,290.3 727.3,289.5 729.4,291.9 731.6,290.3 733.7,284.9 735.8,289.5 738.0,291.1 740.1,291.9 742.2,289.5 744.3,291.1 746.5,290.3 748.6,291.1 750.7,289.5 752.9,291.9 755.0,291.9 757.1,291.1 759.3,291.1 761.4,291.1 763.5,291.9 765.7,290.3 767.8,288.7 769.9,290.3 772.1,290.3 774.2,291.9 776.3,291.1 778.5,291.9 780.6,291.9 782.7,292.7 784.9,291.9 787.0,291.1 789.1,290.3 791.3,291.1 793.4,292.7 795.5,291.9 797.7,290.3 799.8,291.9 801.9,291.1 804.1,290.3 806.2,290.3 808.3,289.5 810.5,290.3 812.6,292.7 814.7,291.1 816.9,291.1 819.0,291.1 821.1,290.3 823.3,291.1 825.4,291.1 827.5,291.1 829.7,291.9 831.8,292.7 833.9,291.9 836.1,292.7 838.2,290.3 840.3,290.3 842.5,292.7 844.6,291.1 846.7,296.4 848.9,291.1 851.0,290.3 853.1,290.3 855.3,291.1 857.4,289.5 859.5,290.3 861.7,289.5 863.8,289.5 865.9,291.9 868.1,291.1 870.2,291.9 872.3,291.9 874.5,290.3 876.6,290.3 878.7,291.9 880.9,291.1 883.0,292.7 885.1,291.1 887.3,291.1 889.4,291.1 891.5,291.1 893.7,292.7 895.8,291.9 897.9,291.1 900.1,290.3 902.2,291.1 904.3,290.3 906.5,285.0 908.6,289.5 910.7,291.9 912.9,291.9 915.0,290.3 917.1,291.1 919.3,291.1 921.4,291.1 923.5,290.3 925.7,291.1 927.8,291.1 929.9,291.9 932.1,292.7 934.2,292.7 936.3,291.9 938.5,293.5 940.6,291.9 942.7,289.5 944.9,291.1 947.0,291.1 949.1,291.1 951.3,291.1 953.4,291.1 955.5,292.7 957.7,291.9 959.8,285.7 961.9,291.1 964.1,291.1 966.2,290.3 968.3,290.3 970.5,289.5 972.6,291.9 974.7,291.1 976.9,291.1 979.0,291.1 981.1,290.3 983.3,290.3 985.4,290.3 987.5,291.1 989.7,291.9 991.8,291.9 993.9,292.7 996.1,292.7 998.2,291.1 1000.3,291.1 1002.5,291.1 1004.6,291.1 1006.7,291.1 1008.9,291.1 1011.0,291.9 1013.1,291.1 1015.3,291.1 1017.4,291.1 1019.5,290.3 1021.7,291.9 1023.8,291.1 1025.9,291.1 1028.1,291.1 1030.2,291.1 1032.3,289.5 1034.5,291.1 1036.6,291.1 1038.7,291.1 1040.9,291.9 1043.0,291.9 1045.1,291.1 1047.3,291.9 1049.4,291.1 1051.5,291.1 1053.7,289.5 1055.8,291.9 1057.9,291.1 1060.1,284.3 1062.2,291.9 1064.3,291.1 1066.5,291.1 1068.6,290.3 1070.7,290.3 1072.9,291.1 1075.0,291.9 1077.1,291.9 1079.2,291.1 1081.4,291.1 1083.5,291.1 1085.6,291.1 1087.8,291.1 1089.9,291.9 1092.0,291.1 1094.2,290.3 1096.3,289.5 1098.4,291.1 1100.6,291.1 1102.7,291.1 1104.8,293.5 1107.0,291.1 1109.1,290.3 1111.2,293.4 1113.4,291.1 1115.5,291.1 1117.6,290.3 1119.8,291.9 1121.9,291.1 1124.0,290.3 1126.2,291.9 1128.3,292.7 1130.4,290.3 1132.6,291.1 1134.7,291.9 1136.8,291.1 1139.0,291.9 1141.1,291.1 1143.2,291.1 1145.4,290.3 1147.5,290.3 1149.6,289.5 1151.8,291.1 1153.9,291.9 1156.0,291.9 1158.2,291.1 1160.3,292.7 1162.4,291.1 1164.6,291.1 1166.7,291.1 1168.8,291.1 1171.0,291.9 1173.1,291.1 1175.2,291.9 1177.4,291.9 1179.5,291.9 1181.6,291.1 1183.8,291.1 1185.9,291.1 1188.0,291.1 1190.2,291.9 1192.3,290.3 1194.4,290.3 1196.6,292.7 1198.7,290.3 1200.8,291.1 1203.0,291.9 1205.1,291.1 1207.2,291.1 1209.4,291.1 1211.5,291.9 1213.6,291.1 1215.8,291.1 1217.9,290.3 1220.0,291.1 1222.2,290.3 1224.3,291.1 1226.4,291.9 1228.6,292.7 1230.7,291.1 1232.8,292.7 1235.0,291.1 1237.1,291.1 1239.2,291.9 1241.4,289.5 1243.5,291.9 1245.6,291.9 1247.8,291.9 1249.9,291.9 1252.0,291.1 1254.2,291.1 1256.3,296.4 1258.4,290.3 1260.6,291.1 1262.7,291.1 1264.8,291.9 1267.0,292.7 1269.1,293.4 1271.2,291.9 1273.4,289.5 1275.5,290.3 1277.6,290.3 1279.8,290.3 1281.9,291.9 1284.0,291.1 1286.2,291.1 1288.3,291.9 1290.4,291.9 1292.6,291.1 1294.7,291.9 1296.8,291.1 1299.0,290.3 1301.1,290.3 1303.2,292.7 1305.4,292.7 1307.5,290.3 1309.6,291.1 1311.8,291.1 1313.9,291.9 1320.3,289.5 1322.4,291.9 1324.6,291.9 1326.7,291.1 1328.8,292.7 1331.0,294.2 1333.1,291.1 1335.2,290.3 1337.4,290.3 1339.5,291.1"/>
<polyline points="226.0,322.4 228.1,322.4 230.3,323.2 232.4,322.4 234.5,321.6 236.7,324.0 238.8,326.4 240.9,321.6 243.1,324.8 245.2,324.0 247.3,326.4 249.5,325.6 251.6,325.6 253.7,324.0 255.9,327.2 258.0,324.0 260.1,328.8 262.3,324.0 264.4,322.4 266.5,323.2 268.7,321.6 270.8,325.6 272.9,320.8 275.1,327.2 277.2,326.4 279.3,325.6 281.5,323.2 283.6,322.4 285.7,322.4 287.9,323.2 290.0,324.8 292.1,323.2 294.3,323.2 296.4,324.0 298.5,323.2 300.7,324.0 302.8,324.0 304.9,323.2 307.1,324.0 309.2,324.0 311.3,324.0 313.5,324.0 315.6,317.4 317.7,324.0 319.9,324.0 322.0,324.8 324.1,317.8 326.3,323.2 328.4,324.0 330.5,324.8 332.7,323.2 334.8,324.0 336.9,324.8 339.1,324.8 341.2,324.0 362.5,323.2 364.7,323.2 366.8,324.8 368.9,324.0 371.1,324.0 373.2,323.2 375.3,324.8 377.5,324.0 379.6,324.0 381.7,323.2 383.9,322.4 386.0,324.8 388.1,324.8 390.3,324.8 392.4,325.6 394.5,324.0 396.6,324.8 398.8,324.0 400.9,324.0 403.0,324.0 405.2,324.8 407.3,324.8 409.4,324.0 411.6,324.0 413.7,324.8 415.8,324.8 418.0,323.2 420.1,323.2 422.2,324.8 424.4,324.0 426.5,324.0 428.6,324.8 430.8,325.6 432.9,324.8 435.0,324.8 437.2,323.2 439.3,324.8 441.4,324.8 443.6,324.0 445.7,324.0 447.8,325.6 450.0,323.2 452.1,324.0 454.2,322.4 456.4,324.0 458.5,324.8 460.6,324.8 462.8,326.4 464.9,325.6 467.0,323.2 469.2,324.0 471.3,324.0 473.4,322.4 475.6,323.2 477.7,324.0 479.8,324.0 482.0,325.6 484.1,324.8 486.2,324.8 488.4,324.0 490.5,324.8 492.6,324.0 494.8,324.0 496.9,324.8 499.0,324.8 501.2,324.8 503.3,324.0 505.4,324.0 507.6,324.8 509.7,324.8 511.8,324.8 514.0,324.8 516.1,323.2 518.2,320.8 520.4,324.0 522.5,324.0 524.6,324.8 526.8,324.8 528.9,324.8 531.0,324.0 533.2,324.0 535.3,325.6 537.4,323.2 539.6,324.0 541.7,323.2 543.8,323.2 546.0,324.8 548.1,324.8 550.2,324.0 552.4,324.0 554.5,323.2 556.6,325.6 558.8,324.0 560.9,324.0 563.0,325.6 565.2,324.8 567.3,324.8 569.4,323.2 571.6,325.6 573.7,325.6 575.8,326.4 578.0,324.0 580.1,324.0 582.2,323.2 584.4,324.0 586.5,324.8 588.6,324.0 590.8,321.7 592.9,324.8 595.0,325.6 597.2,324.8 599.3,323.2 601.4,324.8 603.6,323.2 605.7,322.4 607.8,323.2 610.0,323.2 612.1,324.8 614.2,324.8 616.4,323.2 618.5,324.0 620.6,324.0 622.8,324.8 624.9,324.0 627.0,324.0 629.2,323.2 631.3,323.2 633.4,324.8 635.6,324.8 637.7,324.0 639.8,324.8 642.0,324.8 644.1,325.6 646.2,323.2 648.4,324.8 650.5,324.0 652.6,324.8 654.8,323.2 656.9,323.2 659.0,327.2 661.2,324.0 663.3,324.8 665.4,325.6 667.6,324.8 669.7,324.0 671.8,324.8 674.0,324.0 676.1,324.8 678.2,324.0 680.4,324.8 682.5,324.8 684.6,324.0 686.8,323.2 688.9,323.2 691.0,330.0 693.2,324.8 695.3,325.6 697.4,324.8 699.6,324.0 701.7,324.8 703.8,324.0 706.0,323.2 708.1,323.2 710.2,317.3 712.4,324.0 714.5,323.2 716.6,323.2 718.8,324.0 720.9,324.8 723.0,324.8 725.2,324.0 727.3,323.2 729.4,324.0 731.6,324.8 733.7,324.8 735.8,323.2 738.0,324.8 740.1,323.2 742.2,324.0 744.3,323.2 746.5,324.0 748.6,324.0 750.7,324.0 752.9,323.2 755.0,324.8 757.1,322.4 759.3,324.0 761.4,324.0 763.5,323.2 765.7,323.2 767.8,321.6 769.9,317.5 772.1,322.4 774.2,323.2 776.3,324.0 778.5,324.0 780.6,324.0 782.7,324.0 784.9,324.0 787.0,323.2 789.1,322.4 791.3,323.2 793.4,324.0 795.5,323.2 797.7,325.6 799.8,323.2 801.9,325.5 804.1,327.3 806.2,323.2 808.3,324.8 810.5,324.0 812.6,324.0 814.7,323.2 816.9,323.2 819.0,324.0 821.1,324.0 823.3,324.0 825.4,324.0 827.5,323.2 829.7,322.4 831.8,324.0 833.9,324.0 836.1,323.2 838.2,324.0 840.3,324.0 842.5,324.0 844.6,323.2 846.7,324.0 848.9,324.8 851.0,325.6 853.1,325.6 855.3,323.2 857.4,324.0 859.5,324.8 861.7,324.0 863.8,323.2 865.9,323.2 868.1,324.8 870.2,323.2 872.3,324.8 874.5,324.0 876.6,323.2 878.7,323.2 880.9,324.0 883.0,323.2 885.1,324.8 887.3,324.8 889.4,324.0 891.5,322.4 893.7,323.2 895.8,323.2 897.9,323.2 900.1,324.8 902.2,324.8 904.3,325.6 906.5,324.8 908.6,329.0 910.7,324.0 912.9,323.2 915.0,324.8 917.1,323.2 919.3,325.6 921.4,325.6 923.5,324.0 925.7,323.2 927.8,322.4 929.9,324.0 932.1,324.8 934.2,324.8 936.3,323.2 938.5,324.0 940.6,324.0 942.7,324.0 944.9,324.0 947.0,324.8 949.1,325.6 951.3,323.2 953.4,322.4 955.5,323.2 957.7,324.0 959.8,323.2 961.9,324.8 964.1,324.8 966.2,326.4 968.3,325.6 970.5,324.8 972.6,324.8 974.7,324.0 976.9,324.0 979.0,324.8 981.1,323.2 983.3,322.4 985.4,324.0 987.5,324.8 989.7,324.0 991.8,324.0 993.9,324.8 996.1,324.8 998.2,325.6 1000.3,324.8 1002.5,325.6 1004.6,323.2 1006.7,322.4 1008.9,322.4 1011.0,323.2 1013.1,324.8 1015.3,323.2 1017.4,324.0 1019.5,324.8 1021.7,324.8 1023.8,324.0 1025.9,323.2 1028.1,324.0 1030.2,323.2 1032.3,324.0 1034.5,324.0 1036.6,323.2 1038.7,322.4 1040.9,324.8 1043.0,322.4 1045.1,322.4 1047.3,323.2 1049.4,324.0 1051.5,324.0 1053.7,324.8 1055.8,324.0 1057.9,323.2 1060.1,322.4 1062.2,323.2 1064.3,323.2 1066.5,323.2 1068.6,321.0 1070.7,324.0 1072.9,324.8 1075.0,325.6 1077.1,326.4 1079.2,323.2 1081.4,324.0 1083.5,324.0 1085.6,327.5 1087.8,324.8 1089.9,324.0 1092.0,324.0 1094.2,324.8 1096.3,324.0 1098.4,323.2 1100.6,323.2 1102.7,321.6 1104.8,324.8 1107.0,324.0 1109.1,323.2 1111.2,323.2 1113.4,324.0 1115.5,324.0 1117.6,324.0 1119.8,323.2 1121.9,324.0 1124.0,324.8 1126.2,324.0 1128.3,324.0 1130.4,324.0 1132.6,324.0 1134.7,324.8 1136.8,323.2 1139.0,324.0 1141.1,327.9 1143.2,325.6 1145.4,324.0 1147.5,324.0 1149.6,324.0 1151.8,325.6 1153.9,322.4 1156.0,323.2 1158.2,324.0 1160.3,324.0 1162.4,323.2 1164.6,323.2 1166.7,324.0 1168.8,324.0 1171.0,323.2 1173.1,325.6 1175.2,324.8 1177.4,324.0 1179.5,324.0 1181.6,323.2 1183.8,323.2 1185.9,324.0 1188.0,324.0 1190.2,323.2 1192.3,322.4 1194.4,324.0 1196.6,324.8 1198.7,324.0 1200.8,324.8 1203.0,324.8 1205.1,324.0 1207.2,325.6 1209.4,324.0 1211.5,323.2 1213.6,321.6 1215.8,322.4 1217.9,322.4 1220.0,324.0 1222.2,322.4 1224.3,324.0 1226.4,324.0 1228.6,323.2 1230.7,324.8 1232.8,324.8 1235.0,324.8 1237.1,324.0 1239.2,324.8 1241.4,324.8 1243.5,324.0 1245.6,323.2 1247.8,324.0 1249.9,323.2 1252.0,324.0 1254.2,324.0 1256.3,324.0 1258.4,323.2 1260.6,324.8 1262.7,318.8 1264.8,324.8 1267.0,324.8 1269.1,324.0 1271.2,323.2 1273.4,324.8 1275.5,324.0 1277.6,324.0 1279.8,324.8 1281.9,323.2 1284.0,324.8 1286.2,324.0 1288.3,324.0 1290.4,324.0 1292.6,324.0 1294.7,323.2 1296.8,323.2 1299.0,323.2 1301.1,322.4 1303.2,323.2 1305.4,325.6 1307.5,324.0 1309.6,324.8 1311.8,324.0 1313.9,323.2 1320.3,323.2 1322.4,322.4 1324.6,323.2 1326.7,319.6 1328.8,323.2 1331.0,324.0 1333.1,324.8 1335.2,324.0 1337.4,322.4 1339.5,324.0"/>
<polyline points="226.0,357.6 228.1,351.6 230.3,359.2 232.4,354.4 234.5,354.4 236.7,360.8 238.8,356.8 240.9,360.8 243.1,360.0 245.2,354.4 247.3,356.8 249.5,355.2 251.6,354.4 253.7,356.8 255.9,358.4 258.0,360.1 260.1,353.9 262.3,357.6 264.4,356.0 266.5,356.0 268.7,357.6 270.8,356.0 272.9,357.6 275.1,356.0 277.2,356.8 279.3,356.0 281.5,352.0 283.6,355.1 285.7,358.4 287.9,356.8 290.0,358.4 292.1,356.0 294.3,357.7 296.4,356.8 298.5,357.6 300.7,358.4 302.8,358.4 304.9,359.2 307.1,357.6 309.2,355.2 311.3,357.6 313.5,356.0 315.6,356.8 317.7,356.8 319.9,357.6 322.0,356.8 324.1,357.6 326.3,357.6 328.4,356.8 330.5,356.8 332.7,356.0 334.8,356.0 336.9,355.2 339.1,355.2 341.2,357.6 362.5,356.8 364.7,360.6 366.8,352.6 368.9,356.0 371.1,356.8 373.2,355.2 375.3,356.8 377.5,357.6 379.6,356.8 381.7,356.0 383.9,356.0 386.0,356.8 388.1,358.4 390.3,356.8 392.4,356.8 394.5,356.0 396.6,356.8 398.8,355.2 400.9,356.8 403.0,356.0 405.2,356.0 407.3,356.0 409.4,356.0 411.6,355.2 413.7,356.0 415.8,358.4 418.0,356.8 420.1,356.8 422.2,356.8 424.4,356.8 426.5,356.0 428.6,352.8 430.8,356.0 432.9,356.0 435.0,356.0 437.2,360.5 439.3,356.8 441.4,358.4 443.6,357.6 445.7,356.8 447.8,356.0 450.0,357.6 452.1,359.2 454.2,357.6 456.4,356.8 458.5,356.0 460.6,358.4 462.8,356.0 464.9,355.2 467.0,355.2 469.2,357.6 471.3,356.8 473.4,357.6 475.6,357.6 477.7,357.6 479.8,355.2 482.0,356.8 484.1,356.0 486.2,356.8 488.4,356.8 490.5,356.0 492.6,358.4 494.8,356.0 496.9,356.0 499.0,356.8 501.2,358.4 503.3,356.8 505.4,357.6 507.6,356.8 509.7,356.8 511.8,357.6 514.0,357.6 516.1,355.2 518.2,356.8 520.4,357.6 522.5,356.8 524.6,356.0 526.8,357.6 528.9,356.8 531.0,356.8 533.2,356.0 535.3,357.6 537.4,358.4 539.6,356.8 541.7,356.8 543.8,356.8 546.0,356.8 548.1,356.0 550.2,356.0 552.4,357.6 554.5,356.0 556.6,357.6 558.8,357.6 560.9,356.0 563.0,356.0 565.2,356.0 567.3,356.8 569.4,357.6 571.6,357.6 573.7,356.8 575.8,356.8 578.0,356.8 580.1,357.6 582.2,359.8 584.4,357.6 586.5,357.6 588.6,356.0 590.8,357.6 592.9,358.4 595.0,357.6 597.2,356.8 599.3,356.0 601.4,357.6 603.6,356.0 605.7,356.8 607.8,356.0 610.0,356.0 612.1,356.0 614.2,358.4 616.4,357.6 618.5,356.8 620.6,359.2 622.8,356.0 624.9,356.0 627.0,360.1 629.2,355.2 631.3,355.2 633.4,356.0 635.6,357.6 637.7,356.0 639.8,356.0 642.0,356.0 644.1,356.8 646.2,357.6 648.4,357.6 650.5,356.8 652.6,357.6 654.8,356.8 656.9,356.8 659.0,356.8 661.2,356.0 663.3,356.0 665.4,356.8 667.6,356.0 669.7,358.4 671.8,357.6 674.0,359.2 676.1,357.6 678.2,356.0 680.4,356.8 682.5,356.8 684.6,356.8 686.8,357.6 688.9,357.6 691.0,357.6 693.2,357.6 695.3,356.8 697.4,357.6 699.6,356.8 701.7,356.0 703.8,356.0 706.0,356.8 708.1,361.3 710.2,356.8 712.4,356.8 714.5,356.0 716.6,355.2 718.8,356.8 720.9,356.8 723.0,356.0 725.2,356.0 727.3,357.6 729.4,356.8 731.6,356.8 733.7,356.8 735.8,356.8 738.0,358.4 740.1,356.8 742.2,357.6 744.3,356.8 746.5,357.6 748.6,357.6 750.7,357.6 752.9,356.0 755.0,358.4 757.1,356.8 759.3,358.4 761.4,356.8 763.5,356.8 765.7,358.4 767.8,356.8 769.9,356.0 772.1,362.7 774.2,356.8 776.3,357.6 778.5,356.0 780.6,356.8 782.7,357.6 784.9,357.6 787.0,357.6 789.1,356.8 791.3,356.0 793.4,356.8 795.5,356.0 797.7,356.0 799.8,357.6 801.9,358.4 804.1,358.4 806.2,356.8 808.3,356.8 810.5,355.2 812.6,356.8 814.7,356.8 816.9,356.8 819.0,357.6 821.1,357.6 823.3,356.0 825.4,356.0 827.5,356.0 829.7,357.6 831.8,358.4 833.9,356.0 836.1,358.4 838.2,356.8 840.3,356.8 842.5,358.4 844.6,353.8 846.7,356.8 848.9,357.6 851.0,356.8 853.1,356.8 855.3,357.6 857.4,357.6 859.5,356.8 861.7,356.0 863.8,357.6 865.9,356.0 868.1,357.6 870.2,356.0 872.3,358.4 874.5,358.4 876.6,356.8 878.7,357.6 880.9,356.8 883.0,356.8 885.1,357.6 887.3,356.8 889.4,356.8 891.5,357.6 893.7,356.0 895.8,356.8 897.9,356.8 900.1,356.0 902.2,356.0 904.3,355.2 906.5,356.0 908.6,356.0 910.7,356.8 912.9,356.8 915.0,357.6 917.1,357.6 919.3,357.6 921.4,356.0 923.5,356.8 925.7,357.6 927.8,356.0 929.9,357.6 932.1,356.8 934.2,356.8 936.3,356.0 938.5,356.8 940.6,357.6 942.7,356.0 944.9,356.0 947.0,356.8 949.1,356.0 951.3,358.4 953.4,358.4 955.5,356.8 957.7,357.6 959.8,357.6 961.9,356.8 964.1,356.8 966.2,356.8 968.3,355.2 970.5,355.2 972.6,362.9 974.7,356.8 976.9,357.6 979.0,356.8 981.1,356.0 983.3,357.6 985.4,356.8 987.5,356.8 989.7,356.8 991.8,356.8 993.9,354.4 996.1,356.0 998.2,356.0 1000.3,357.6 1002.5,356.8 1004.6,356.8 1006.7,356.8 1008.9,356.8 1011.0,357.6 1013.1,356.0 1015.3,356.0 1017.4,358.4 1019.5,356.8 1021.7,356.0 1023.8,356.8 1025.9,356.8 1028.1,357.6 1030.2,357.6 1032.3,356.8 1034.5,357.6 1036.6,358.4 1038.7,357.6 1040.9,356.8 1043.0,357.6 1045.1,357.6 1047.3,357.6 1049.4,358.4 1051.5,357.6 1053.7,356.0 1055.8,359.3 1057.9,356.0 1060.1,356.8 1062.2,356.0 1064.3,356.0 1066.5,357.6 1068.6,356.8 1070.7,356.0 1072.9,356.8 1075.0,357.6 1077.1,357.6 1079.2,356.0 1081.4,356.0 1083.5,356.0 1085.6,356.8 1087.8,356.8 1089.9,355.2 1092.0,356.8 1094.2,356.0 1096.3,357.6 1098.4,356.8 1100.6,356.8 1102.7,356.8 1104.8,357.6 1107.0,356.8 1109.1,356.8 1111.2,356.8 1113.4,356.0 1115.5,356.0 1117.6,356.0 1119.8,356.8 1121.9,357.6 1124.0,356.8 1126.2,358.4 1128.3,356.0 1130.4,357.6 1132.6,355.2 1134.7,356.0 1136.8,357.6 1139.0,357.6 1141.1,354.4 1143.2,357.6 1145.4,357.6 1147.5,356.0 1149.6,356.0 1151.8,355.2 1153.9,356.0 1156.0,357.6 1158.2,355.2 1160.3,356.8 1162.4,354.4 1164.6,356.8 1166.7,356.0 1168.8,355.2 1171.0,357.6 1173.1,357.6 1175.2,356.8 1177.4,356.8 1179.5,356.0 1181.6,356.8 1183.8,358.4 1185.9,358.4 1188.0,356.0 1190.2,357.6 1192.3,356.0 1194.4,356.0 1196.6,355.2 1198.7,356.0 1200.8,356.0 1203.0,356.8 1205.1,357.6 1207.2,356.8 1209.4,356.8 1211.5,357.6 1213.6,357.6 1215.8,356.8 1217.9,357.6 1220.0,357.6 1222.2,356.8 1224.3,358.4 1226.4,356.8 1228.6,356.8 1230.7,356.8 1232.8,356.0 1235.0,356.8 1237.1,356.8 1239.2,356.8 1241.4,356.8 1243.5,356.8 1245.6,356.0 1247.8,356.8 1249.9,357.6 1252.0,356.0 1254.2,356.8 1256.3,356.0 1258.4,356.0 1260.6,357.6 1262.7,359.2 1264.8,356.8 1267.0,356.8 1269.1,356.8 1271.2,356.8 1273.4,356.8 1275.5,356.0 1277.6,356.0 1279.8,356.0 1281.9,356.8 1284.0,356.0 1286.2,350.6 1288.3,357.6 1290.4,356.0 1292.6,356.0 1294.7,356.0 1296.8,356.0 1299.0,355.2 1301.1,356.8 1303.2,356.8 1305.4,356.0 1307.5,356.8 1309.6,355.2 1311.8,356.0 1313.9,357.6 1320.3,357.6 1322.4,356.8 1324.6,357.6 1326.7,356.8 1328.8,356.8 1331.0,357.6 1333.1,356.8 1335.2,358.4 1337.4,355.2 1339.5,356.8"/>
<polyline points="226.0,391.3 228.1,388.9 230.3,389.7 232.4,388.1 234.5,389.7 236.7,388.1 238.8,388.9 240.9,388.1 243.1,390.5 245.2,391.3 247.3,388.1 249.5,388.9 251.6,388.1 253.7,388.9 255.9,391.3 258.0,390.5 260.1,390.5 262.3,392.1 264.4,389.7 266.5,392.1 268.7,390.5 270.8,391.3 272.9,388.9 275.1,388.1 277.2,391.3 279.3,391.3 281.5,389.7 283.6,389.7 285.7,388.9 287.9,391.3 290.0,392.1 292.1,389.7 294.3,388.9 296.4,390.5 298.5,390.5 300.7,390.5 302.8,389.7 304.9,389.7 307.1,389.7 309.2,390.5 311.3,388.1 313.5,389.7 315.6,389.7 317.7,389.7 319.9,388.9 322.0,388.9 324.1,388.9 326.3,388.9 328.4,388.9 330.5,389.7 332.7,389.7 334.8,388.9 336.9,388.9 339.1,390.5 341.2,391.3 362.5,390.5 364.7,390.5 366.8,389.7 368.9,391.3 371.1,389.7 373.2,388.9 375.3,389.7 377.5,388.9 379.6,389.7 381.7,391.3 383.9,390.5 386.0,388.9 388.1,389.7 390.3,389.7 392.4,388.9 394.5,388.1 396.6,388.1 398.8,390.5 400.9,391.3 403.0,388.9 405.2,390.5 407.3,389.7 409.4,390.5 411.6,389.7 413.7,389.7 415.8,390.5 418.0,390.5 420.1,389.7 422.2,390.5 424.4,390.5 426.5,390.5 428.6,390.5 430.8,389.7 432.9,388.9 435.0,388.9 437.2,389.7 439.3,389.7 441.4,388.9 443.6,391.3 445.7,391.3 447.8,391.3 450.0,391.3 452.1,389.7 454.2,395.1 456.4,389.7 458.5,388.9 460.6,389.7 462.8,388.9 464.9,390.5 467.0,386.7 469.2,389.7 471.3,388.9 473.4,382.7 475.6,389.7 477.7,390.5 479.8,391.3 482.0,388.9 484.1,388.9 486.2,388.1 488.4,389.7 490.5,391.3 492.6,391.3 494.8,390.5 496.9,389.7 499.0,389.7 501.2,391.3 503.3,390.5 505.4,391.3 507.6,388.9 509.7,388.9 511.8,388.9 514.0,389.7 516.1,388.9 518.2,388.9 520.4,388.9 522.5,390.5 524.6,391.3 526.8,390.5 528.9,389.7 531.0,388.9 533.2,390.5 535.3,390.5 537.4,389.7 539.6,389.7 541.7,390.5 543.8,389.7 546.0,391.3 548.1,390.5 550.2,390.5 552.4,390.5 554.5,390.5 556.6,389.7 558.8,390.5 560.9,388.9 563.0,389.7 565.2,388.1 567.3,390.5 569.4,388.1 571.6,388.9 573.7,390.5 575.8,391.3 578.0,388.9 580.1,389.7 582.2,388.9 584.4,393.3 586.5,390.5 588.6,389.7 590.8,388.9 592.9,389.7 595.0,389.7 597.2,388.1 599.3,389.7 601.4,388.1 603.6,390.5 605.7,389.7 607.8,388.9 610.0,388.1 612.1,388.1 614.2,388.9 616.4,388.9 618.5,392.1 620.6,390.5 622.8,388.9 624.9,389.7 627.0,387.3 629.2,388.9 631.3,388.9 633.4,389.7 635.6,391.3 637.7,388.9 639.8,388.9 642.0,388.1 644.1,388.1 646.2,388.9 648.4,390.5 650.5,390.5 652.6,389.7 654.8,390.5 656.9,389.7 659.0,389.7 661.2,389.7 663.3,389.7 665.4,389.7 667.6,390.5 669.7,388.1 671.8,390.5 674.0,391.3 676.1,389.7 678.2,390.5 680.4,390.5 682.5,390.5 684.6,389.7 686.8,390.5 688.9,388.9 691.0,388.9 693.2,389.7 695.3,388.9 697.4,388.1 699.6,388.9 701.7,389.7 703.8,389.7 706.0,390.5 708.1,389.7 710.2,391.3 712.4,390.5 714.5,388.9 716.6,390.5 718.8,389.7 720.9,389.7 723.0,390.5 725.2,390.5 727.3,388.9 729.4,388.9 731.6,388.9 733.7,388.9 735.8,390.5 738.0,388.9 740.1,389.7 742.2,389.7 744.3,390.5 746.5,389.7 748.6,389.7 750.7,390.5 752.9,388.9 755.0,387.5 757.1,390.5 759.3,389.7 761.4,388.1 763.5,388.9 765.7,390.5 767.8,388.9 769.9,388.9 772.1,391.3 774.2,389.7 776.3,391.3 778.5,388.9 780.6,390.5 782.7,388.9 784.9,388.9 787.0,391.3 789.1,390.5 791.3,389.7 793.4,389.7 795.5,389.7 797.7,388.9 799.8,389.7 801.9,389.7 804.1,389.7 806.2,390.5 808.3,391.3 810.5,388.9 812.6,388.9 814.7,390.5 816.9,391.3 819.0,389.7 821.1,390.5 823.3,390.5 825.4,391.3 827.5,389.7 829.7,389.7 831.8,389.7 833.9,388.9 836.1,389.7 838.2,388.9 840.3,388.9 842.5,389.7 844.6,388.9 846.7,390.5 848.9,389.7 851.0,390.5 853.1,388.9 855.3,388.9 857.4,389.7 859.5,395.8 861.7,389.7 863.8,389.7 865.9,388.1 868.1,388.9 870.2,388.1 872.3,390.5 874.5,390.5 876.6,390.5 878.7,389.7 880.9,390.5 883.0,389.7 885.1,388.9 887.3,390.5 889.4,389.7 891.5,388.9 893.7,388.9 895.8,388.9 897.9,389.7 900.1,388.9 902.2,389.7 904.3,389.7 906.5,388.9 908.6,389.7 910.7,388.9 912.9,389.7 915.0,389.7 917.1,388.1 919.3,389.7 921.4,390.5 923.5,390.5 925.7,389.7 927.8,389.7 929.9,388.9 932.1,389.7 934.2,389.7 936.3,389.7 938.5,389.7 940.6,388.9 942.7,390.5 944.9,390.5 947.0,391.3 949.1,390.5 951.3,390.5 953.4,389.7 955.5,388.1 957.7,389.7 959.8,388.9 961.9,389.7 964.1,389.7 966.2,389.7 968.3,388.9 970.5,388.9 972.6,389.7 974.7,391.3 976.9,389.7 979.0,388.9 981.1,390.5 983.3,390.5 985.4,390.5 987.5,389.7 989.7,391.3 991.8,389.7 993.9,388.9 996.1,390.5 998.2,391.3 1000.3,389.7 1002.5,390.5 1004.6,390.5 1006.7,390.5 1008.9,389.7 1011.0,390.5 1013.1,388.9 1015.3,389.7 1017.4,389.7 1019.5,390.5 1021.7,390.5 1023.8,389.7 1025.9,391.3 1028.1,389.7 1030.2,388.9 1032.3,388.9 1034.5,389.7 1036.6,389.7 1038.7,389.7 1040.9,390.5 1043.0,390.5 1045.1,389.7 1047.3,391.3 1049.4,389.7 1051.5,389.7 1053.7,389.7 1055.8,391.3 1057.9,390.5 1060.1,389.7 1062.2,391.5 1064.3,391.3 1066.5,390.5 1068.6,389.7 1070.7,390.5 1072.9,390.5 1075.0,389.7 1077.1,391.3 1079.2,395.5 1081.4,389.7 1083.5,388.9 1085.6,389.7 1087.8,389.7 1089.9,388.9 1092.0,388.9 1094.2,389.7 1096.3,391.3 1098.4,388.9 1100.6,389.7 1102.7,390.5 1104.8,390.5 1107.0,390.5 1109.1,389.7 1111.2,390.5 1113.4,389.7 1115.5,388.9 1117.6,388.9 1119.8,389.7 1121.9,389.7 1124.0,389.7 1126.2,390.5 1128.3,390.5 1130.4,390.5 1132.6,390.5 1134.7,389.7 1136.8,388.9 1139.0,388.9 1141.1,389.7 1143.2,389.7 1145.4,390.5 1147.5,388.9 1149.6,389.7 1151.8,390.5 1153.9,387.3 1156.0,389.7 1158.2,388.1 1160.3,389.7 1162.4,388.9 1164.6,391.3 1166.7,390.5 1168.8,388.9 1171.0,388.1 1173.1,388.9 1175.2,389.7 1177.4,388.1 1179.5,389.7 1181.6,390.5 1183.8,388.1 1185.9,389.7 1188.0,389.7 1190.2,390.5 1192.3,388.9 1194.4,389.7 1196.6,389.7 1198.7,389.7 1200.8,389.7 1203.0,388.9 1205.1,382.5 1207.2,389.7 1209.4,388.9 1211.5,388.9 1213.6,391.3 1215.8,390.5 1217.9,391.3 1220.0,390.5 1222.2,390.5 1224.3,391.3 1226.4,388.9 1228.6,390.5 1230.7,389.7 1232.8,388.9 1235.0,389.7 1237.1,388.9 1239.2,388.9 1241.4,388.9 1243.5,389.7 1245.6,388.9 1247.8,389.7 1249.9,390.5 1252.0,390.5 1254.2,388.9 1256.3,388.9 1258.4,388.9 1260.6,388.9 1262.7,388.9 1264.8,389.7 1267.0,390.5 1269.1,390.5 1271.2,389.7 1273.4,391.3 1275.5,388.1 1277.6,388.9 1279.8,388.1 1281.9,389.7 1284.0,388.9 1286.2,389.7 1288.3,391.3 1290.4,388.9 1292.6,389.7 1294.7,392.9 1296.8,390.5 1299.0,389.7 1301.1,388.9 1303.2,389.7 1305.4,389.7 1307.5,389.7 1309.6,389.7 1311.8,390.5 1313.9,390.5 1320.3,388.9 1322.4,383.3 1324.6,389.7 1326.7,390.5 1328.8,381.7 1331.0,389.7 1333.1,389.7 1335.2,390.5 1337.4,388.9 1339.5,388.9"/>
<polyline points="226.0,423.4 228.1,421.8 230.3,426.6 232.4,429.0 234.5,423.4 236.7,424.2 238.8,421.8 240.9,422.6 243.1,421.8 245.2,422.6 247.3,424.2 249.5,422.6 251.6,420.2 253.7,421.8 255.9,422.6 258.0,421.8 260.1,425.8 262.3,425.0 264.4,424.2 266.5,422.6 268.7,423.4 270.8,425.0 272.9,423.4 275.1,422.6 277.2,422.6 279.3,421.0 281.5,423.4 283.6,423.4 285.7,420.2 287.9,419.4 290.0,425.0 292.1,416.5 294.3,421.8 296.4,422.6 298.5,428.1 300.7,421.8 302.8,422.6 304.9,421.0 307.1,422.6 309.2,422.6 311.3,422.6 313.5,423.4 315.6,424.2 317.7,425.0 319.9,422.6 322.0,422.6 324.1,423.4 326.3,424.2 328.4,422.6 330.5,423.4 332.7,422.6 334.8,422.6 336.9,423.4 339.1,423.4 341.2,423.4 362.5,422.6 364.7,421.8 366.8,422.6 368.9,422.6 371.1,422.6 373.2,421.8 375.3,421.0 377.5,422.6 379.6,423.4 381.7,423.4 383.9,422.6 386.0,422.6 388.1,422.6 390.3,423.4 392.4,425.0 394.5,423.4 396.6,425.0 398.8,423.4 400.9,420.3 403.0,422.6 405.2,422.6 407.3,422.6 409.4,421.8 411.6,421.8 413.7,421.8 415.8,421.8 418.0,423.4 420.1,422.6 422.2,421.8 424.4,424.4 426.5,422.6 428.6,422.6 430.8,421.8 432.9,422.6 435.0,423.4 437.2,422.6 439.3,421.8 441.4,423.4 443.6,421.0 445.7,426.9 447.8,423.4 450.0,422.6 452.1,421.8 454.2,421.8 456.4,421.0 458.5,422.6 460.6,422.6 462.8,423.4 464.9,422.6 467.0,421.8 469.2,422.6 471.3,422.6 473.4,422.6 475.6,421.8 477.7,421.8 479.8,427.2 482.0,421.8 484.1,422.6 486.2,422.6 488.4,422.6 490.5,422.6 492.6,421.8 494.8,422.6 496.9,423.4 499.0,421.8 501.2,421.0 503.3,422.6 505.4,417.1 507.6,421.8 509.7,422.6 511.8,421.8 514.0,421.8 516.1,423.4 518.2,422.6 520.4,421.0 522.5,422.6 524.6,422.6 526.8,421.8 528.9,423.4 531.0,424.2 533.2,421.8 535.3,423.4 537.4,423.4 539.6,423.4 541.7,424.2 543.8,422.6 546.0,422.6 548.1,421.8 550.2,423.4 552.4,423.4 554.5,421.8 556.6,424.2 558.8,425.8 560.9,424.2 563.0,422.6 565.2,422.6 567.3,422.6 569.4,422.6 571.6,422.6 573.7,422.6 575.8,422.6 578.0,422.6 580.1,421.8 582.2,423.4 584.4,423.4 586.5,422.6 588.6,422.6 590.8,421.8 592.9,421.8 595.0,426.2 597.2,421.8 599.3,423.4 601.4,421.8 603.6,422.6 605.7,422.6 607.8,421.8 610.0,421.8 612.1,421.8 614.2,421.8 616.4,423.4 618.5,422.6 620.6,422.6 622.8,422.6 624.9,422.6 627.0,421.8 629.2,424.2 631.3,423.4 633.4,424.2 635.6,422.6 637.7,421.8 639.8,421.8 642.0,422.6 644.1,422.6 646.2,422.6 648.4,422.6 650.5,421.8 652.6,423.4 654.8,422.6 656.9,422.6 659.0,423.4 661.2,424.2 663.3,423.4 665.4,421.0 667.6,422.6 669.7,421.0 671.8,422.6 674.0,423.4 676.1,422.6 678.2,421.8 680.4,423.4 682.5,422.6 684.6,421.8 686.8,423.4 688.9,421.8 691.0,421.8 693.2,422.6 695.3,423.4 697.4,423.4 699.6,423.4 701.7,424.2 703.8,423.4 706.0,424.2 708.1,423.4 710.2,421.8 712.4,422.6 714.5,421.8 716.6,422.6 718.8,422.6 720.9,423.4 723.0,422.6 725.2,422.6 727.3,423.4 729.4,422.6 731.6,421.8 733.7,422.6 735.8,422.6 738.0,421.8 740.1,421.8 742.2,421.0 744.3,422.6 746.5,422.6 748.6,422.6 750.7,421.8 752.9,422.6 755.0,423.4 757.1,421.8 759.3,422.6 761.4,421.8 763.5,422.6 765.7,423.4 767.8,423.4 769.9,422.6 772.1,422.6 774.2,421.8 776.3,422.6 778.5,422.6 780.6,423.4 782.7,425.0 784.9,422.6 787.0,422.6 789.1,422.6 791.3,423.4 793.4,421.8 795.5,421.8 797.7,422.6 799.8,423.4 801.9,424.2 804.1,422.6 806.2,423.4 808.3,423.4 810.5,424.2 812.6,423.4 814.7,423.4 816.9,422.6 819.0,423.4 821.1,422.6 823.3,423.4 825.4,422.6 827.5,421.8 829.7,423.4 831.8,422.6 833.9,422.6 836.1,422.6 838.2,422.6 840.3,423.4 842.5,423.4 844.6,421.8 846.7,422.6 848.9,422.6 851.0,422.6 853.1,422.6 855.3,421.8 857.4,421.8 859.5,422.6 861.7,422.6 863.8,422.6 865.9,422.6 868.1,422.6 870.2,423.4 872.3,423.4 874.5,424.2 876.6,421.8 878.7,421.8 880.9,421.8 883.0,421.8 885.1,422.6 887.3,421.8 889.4,424.2 891.5,422.6 893.7,421.8 895.8,421.0 897.9,421.0 900.1,423.4 902.2,427.3 904.3,422.6 906.5,422.6 908.6,422.6 910.7,421.8 912.9,423.4 915.0,423.4 917.1,422.6 919.3,422.6 921.4,422.6 923.5,422.6 925.7,421.8 927.8,421.8 929.9,422.6 932.1,422.6 934.2,421.0 936.3,421.8 938.5,422.6 940.6,422.6 942.7,423.4 944.9,421.8 947.0,426.4 949.1,421.8 951.3,422.6 953.4,422.6 955.5,422.6 957.7,421.0 959.8,421.8 961.9,422.6 964.1,423.4 966.2,423.4 968.3,422.6 970.5,421.8 972.6,424.2 974.7,422.6 976.9,422.6 979.0,423.4 981.1,423.4 983.3,421.8 985.4,421.0 987.5,422.6 989.7,423.4 991.8,422.6 993.9,422.6 996.1,421.8 998.2,421.8 1000.3,421.8 1002.5,421.8 1004.6,421.8 1006.7,421.8 1008.9,421.8 1011.0,424.2 1013.1,423.4 1015.3,422.6 1017.4,424.2 1019.5,423.4 1021.7,423.4 1023.8,422.6 1025.9,421.8 1028.1,422.6 1030.2,424.2 1032.3,422.6 1034.5,423.4 1036.6,421.8 1038.7,422.6 1040.9,423.4 1043.0,421.8 1045.1,423.4 1047.3,424.2 1049.4,424.2 1051.5,422.6 1053.7,424.2 1055.8,422.6 1057.9,422.6 1060.1,423.4 1062.2,422.6 1064.3,422.6 1066.5,423.4 1068.6,423.4 1070.7,423.4 1072.9,422.6 1075.0,423.4 1077.1,421.8 1079.2,423.4 1081.4,422.6 1083.5,422.6 1085.6,423.4 1087.8,423.4 1089.9,422.6 1092.0,424.2 1094.2,423.4 1096.3,421.0 1098.4,423.4 1100.6,421.8 1102.7,422.6 1104.8,424.2 1107.0,424.2 1109.1,421.8 1111.2,421.0 1113.4,421.8 1115.5,421.8 1117.6,422.6 1119.8,423.4 1121.9,421.8 1124.0,421.0 1126.2,425.9 1128.3,421.8 1130.4,422.6 1132.6,421.8 1134.7,422.6 1136.8,422.6 1139.0,422.6 1141.1,421.8 1143.2,421.8 1145.4,422.6 1147.5,422.6 1149.6,424.2 1151.8,423.4 1153.9,423.4 1156.0,421.8 1158.2,423.4 1160.3,421.8 1162.4,422.6 1164.6,424.2 1166.7,423.4 1168.8,421.8 1171.0,422.6 1173.1,422.6 1175.2,422.6 1177.4,421.8 1179.5,422.6 1181.6,421.0 1183.8,423.4 1185.9,423.4 1188.0,421.8 1190.2,425.0 1192.3,425.0 1194.4,422.6 1196.6,421.8 1198.7,421.0 1200.8,422.6 1203.0,421.8 1205.1,421.8 1207.2,423.4 1209.4,421.0 1211.5,421.0 1213.6,422.6 1215.8,421.8 1217.9,423.4 1220.0,421.8 1222.2,429.0 1224.3,424.2 1226.4,423.4 1228.6,429.1 1230.7,421.8 1232.8,421.8 1235.0,422.6 1237.1,422.6 1239.2,423.4 1241.4,421.8 1243.5,422.6 1245.6,423.4 1247.8,422.6 1249.9,422.6 1252.0,423.4 1254.2,421.8 1256.3,422.6 1258.4,421.0 1260.6,421.0 1262.7,423.4 1264.8,421.8 1267.0,421.0 1269.1,421.0 1271.2,421.0 1273.4,421.8 1275.5,421.8 1277.6,422.6 1279.8,421.8 1281.9,422.6 1284.0,421.8 1286.2,422.6 1288.3,422.6 1290.4,417.5 1292.6,422.6 1294.7,422.6 1296.8,423.4 1299.0,421.8 1301.1,425.0 1303.2,422.6 1305.4,421.0 1307.5,422.6 1309.6,422.6 1311.8,422.6 1313.9,422.6 1320.3,421.8 1322.4,423.4 1324.6,424.2 1326.7,422.6 1328.8,423.4 1331.0,422.6 1333.1,422.6 1335.2,422.6 1337.4,422.6 1339.5,424.2"/>
<polyline points="226.0,457.0 228.1,453.0 230.3,454.6 232.4,457.8 234.5,460.5 236.7,453.8 238.8,454.6 240.9,453.0 243.1,455.4 245.2,458.6 247.3,456.2 249.5,456.2 251.6,452.9 253.7,458.6 255.9,457.0 258.0,456.2 260.1,457.8 262.3,457.8 264.4,455.4 266.5,456.2 268.7,453.0 270.8,454.6 272.9,456.2 275.1,458.6 277.2,456.2 279.3,455.4 281.5,455.4 283.6,453.0 285.7,457.0 287.9,462.2 290.0,457.0 292.1,456.2 294.3,453.0 296.4,455.4 298.5,454.6 300.7,461.0 302.8,455.4 304.9,457.0 307.1,456.2 309.2,456.2 311.3,453.8 313.5,455.4 315.6,453.2 317.7,457.0 319.9,454.6 322.0,453.8 324.1,457.0 326.3,457.8 328.4,456.2 330.5,456.2 332.7,455.4 334.8,454.6 336.9,453.8 339.1,453.8 341.2,456.2 362.5,455.4 364.7,454.6 366.8,455.4 368.9,453.8 371.1,454.6 373.2,456.2 375.3,455.4 377.5,455.4 379.6,456.2 381.7,453.8 383.9,453.8 386.0,450.0 388.1,455.4 390.3,457.0 392.4,455.4 394.5,454.6 396.6,455.4 398.8,453.8 400.9,454.6 403.0,454.6 405.2,455.4 407.3,456.2 409.4,455.4 411.6,459.4 413.7,455.4 415.8,454.6 418.0,455.4 420.1,453.0 422.2,456.2 424.4,455.4 426.5,453.8 428.6,454.6 430.8,448.3 432.9,454.6 435.0,457.0 437.2,456.2 439.3,455.4 441.4,455.4 443.6,455.4 445.7,456.2 447.8,455.4 450.0,460.1 452.1,455.4 454.2,456.2 456.4,456.2 458.5,457.0 460.6,453.8 462.8,453.8 464.9,455.4 467.0,455.4 469.2,456.2 471.3,456.2 473.4,454.6 475.6,455.4 477.7,454.6 479.8,454.6 482.0,457.0 484.1,455.4 486.2,456.2 488.4,456.2 490.5,455.4 492.6,454.6 494.8,454.6 496.9,453.8 499.0,455.4 501.2,454.6 503.3,454.6 505.4,455.4 507.6,455.4 509.7,456.2 511.8,456.2 514.0,455.4 516.1,456.2 518.2,457.0 520.4,456.2 522.5,455.4 524.6,455.4 526.8,453.8 528.9,457.8 531.0,456.2 533.2,453.8 535.3,455.4 537.4,457.9 539.6,454.6 541.7,454.6 543.8,456.2 546.0,456.2 548.1,453.8 550.2,453.8 552.4,454.6 554.5,455.4 556.6,454.6 558.8,456.2 560.9,457.0 563.0,456.2 565.2,454.6 567.3,454.6 569.4,455.4 571.6,454.6 573.7,453.8 575.8,456.2 578.0,456.2 580.1,457.0 582.2,456.2 584.4,455.4 586.5,456.2 588.6,455.4 590.8,455.4 592.9,455.4 595.0,455.4 597.2,455.4 599.3,449.6 601.4,454.6 603.6,454.6 605.7,454.6 607.8,454.6 610.0,455.4 612.1,457.0 614.2,454.6 616.4,453.8 618.5,453.8 620.6,456.2 622.8,456.2 624.9,455.4 627.0,455.4 629.2,454.6 631.3,454.6 633.4,454.6 635.6,455.4 637.7,456.2 639.8,455.4 642.0,456.2 644.1,455.4 646.2,457.0 648.4,455.4 650.5,455.4 652.6,455.4 654.8,455.4 656.9,456.2 659.0,455.4 661.2,455.4 663.3,455.4 665.4,448.4 667.6,455.4 669.7,456.2 671.8,454.6 674.0,455.4 676.1,455.4 678.2,454.6 680.4,455.4 682.5,457.0 684.6,456.2 686.8,454.6 688.9,455.4 691.0,456.2 693.2,455.4 695.3,455.4 697.4,454.6 699.6,456.2 701.7,454.6 703.8,454.6 706.0,455.4 708.1,455.4 710.2,454.6 712.4,456.2 714.5,454.6 716.6,454.6 718.8,455.4 720.9,455.4 723.0,454.6 725.2,453.8 727.3,455.4 729.4,454.6 731.6,455.4 733.7,455.4 735.8,456.2 738.0,455.4 740.1,455.4 742.2,456.2 744.3,455.4 746.5,455.4 748.6,456.2 750.7,455.4 752.9,456.2 755.0,456.2 757.1,456.2 759.3,456.2 761.4,455.4 763.5,456.2 765.7,456.2 767.8,455.4 769.9,454.6 772.1,455.4 774.2,456.2 776.3,454.6 778.5,455.4 780.6,455.4 782.7,455.4 784.9,456.2 787.0,455.4 789.1,455.4 791.3,454.6 793.4,455.4 795.5,455.4 797.7,455.4 799.8,456.2 801.9,454.6 804.1,454.6 806.2,457.0 808.3,457.0 810.5,456.2 812.6,456.2 814.7,457.0 816.9,456.2 819.0,457.0 821.1,456.2 823.3,455.4 825.4,456.2 827.5,456.2 829.7,455.4 831.8,456.2 833.9,457.0 836.1,455.4 838.2,455.4 840.3,456.2 842.5,456.2 844.6,456.2 846.7,455.4 848.9,455.4 851.0,455.4 853.1,454.6 855.3,455.4 857.4,454.6 859.5,453.8 861.7,454.6 863.8,454.6 865.9,454.6 868.1,456.2 870.2,455.4 872.3,457.0 874.5,455.4 876.6,455.4 878.7,454.6 880.9,455.4 883.0,454.6 885.1,456.2 887.3,456.2 889.4,455.4 891.5,455.4 893.7,453.0 895.8,455.4 897.9,454.6 900.1,455.4 902.2,456.2 904.3,455.4 906.5,455.4 908.6,454.6 910.7,455.4 912.9,457.0 915.0,455.4 917.1,455.4 919.3,455.4 921.4,455.4 923.5,454.6 925.7,454.6 927.8,455.4 929.9,455.4 932.1,455.4 934.2,455.4 936.3,455.4 938.5,455.4 940.6,453.8 942.7,454.6 944.9,456.2 947.0,454.6 949.1,454.6 951.3,454.6 953.4,457.0 955.5,455.4 957.7,455.4 959.8,455.4 961.9,457.0 964.1,455.4 966.2,456.2 968.3,456.2 970.5,454.6 972.6,456.2 974.7,454.6 976.9,455.4 979.0,455.4 981.1,456.2 983.3,457.0 985.4,457.8 987.5,455.4 989.7,455.4 991.8,455.4 993.9,454.6 996.1,454.6 998.2,454.6 1000.3,454.6 1002.5,456.2 1004.6,454.6 1006.7,455.4 1008.9,455.4 1011.0,456.2 1013.1,456.2 1015.3,456.2 1017.4,457.0 1019.5,454.6 1021.7,456.2 1023.8,455.4 1025.9,457.8 1028.1,455.4 1030.2,456.2 1032.3,454.6 1034.5,454.6 1036.6,456.2 1038.7,457.0 1040.9,455.4 1043.0,456.2 1045.1,456.2 1047.3,455.4 1049.4,454.6 1051.5,454.6 1053.7,455.4 1055.8,456.2 1057.9,453.8 1060.1,454.6 1062.2,453.8 1064.3,455.4 1066.5,454.6 1068.6,453.8 1070.7,454.6 1072.9,453.8 1075.0,456.2 1077.1,454.6 1079.2,455.4 1081.4,456.2 1083.5,455.4 1085.6,457.0 1087.8,455.4 1089.9,457.0 1092.0,455.4 1094.2,455.4 1096.3,455.4 1098.4,455.4 1100.6,455.4 1102.7,456.2 1104.8,456.2 1107.0,454.6 1109.1,453.8 1111.2,455.4 1113.4,455.4 1115.5,455.4 1117.6,456.2 1119.8,457.0 1121.9,457.0 1124.0,455.4 1126.2,455.4 1128.3,455.4 1130.4,456.2 1132.6,455.4 1134.7,460.9 1136.8,457.0 1139.0,455.4 1141.1,456.2 1143.2,455.4 1145.4,456.2 1147.5,457.0 1149.6,457.0 1151.8,455.4 1153.9,454.6 1156.0,456.2 1158.2,456.2 1160.3,455.4 1162.4,453.8 1164.6,454.6 1166.7,454.6 1168.8,454.6 1171.0,455.4 1173.1,454.6 1175.2,456.2 1177.4,455.4 1179.5,454.6 1181.6,456.2 1183.8,454.6 1185.9,456.2 1188.0,455.4 1190.2,456.2 1192.3,456.2 1194.4,456.2 1196.6,455.4 1198.7,455.4 1200.8,454.6 1203.0,457.0 1205.1,456.2 1207.2,457.0 1209.4,457.0 1211.5,454.6 1213.6,455.4 1215.8,455.4 1217.9,456.2 1220.0,456.2 1222.2,456.2 1224.3,455.4 1226.4,455.4 1228.6,454.6 1230.7,456.2 1232.8,454.6 1235.0,455.4 1237.1,455.4 1239.2,453.8 1241.4,455.4 1243.5,453.8 1245.6,454.6 1247.8,454.6 1249.9,455.4 1252.0,456.2 1254.2,455.4 1256.3,455.4 1258.4,455.4 1260.6,456.2 1262.7,454.6 1264.8,455.4 1267.0,454.6 1269.1,455.4 1271.2,455.4 1273.4,455.4 1275.5,453.8 1277.6,453.8 1279.8,454.6 1281.9,454.6 1284.0,455.4 1286.2,456.2 1288.3,455.4 1290.4,456.2 1292.6,456.2 1294.7,454.6 1296.8,455.4 1299.0,454.6 1301.1,456.2 1303.2,456.2 1305.4,454.6 1307.5,456.2 1309.6,454.6 1311.8,457.0 1313.9,455.4 1320.3,455.4 1322.4,454.6 1324.6,456.2 1326.7,454.6 1328.8,455.4 1331.0,456.2 1333.1,455.4 1335.2,455.4 1337.4,455.4 1339.5,454.6"/>
<polyline points="226.0,485.9 228.1,489.9 230.3,488.3 232.4,489.1 234.5,489.1 236.7,488.3 238.8,488.3 240.9,489.1 243.1,488.3 245.2,489.1 247.3,488.3 249.5,486.7 251.6,492.3 253.7,486.7 255.9,485.9 258.0,489.1 260.1,489.1 262.3,484.3 264.4,486.7 266.5,487.5 268.7,489.9 270.8,486.7 272.9,488.3 275.1,487.5 277.2,487.5 279.3,486.7 281.5,489.1 283.6,488.3 285.7,491.5 287.9,488.9 290.0,488.3 292.1,487.5 294.3,488.3 296.4,488.3 298.5,489.1 300.7,489.1 302.8,489.9 304.9,487.5 307.1,485.9 309.2,489.1 311.3,488.3 313.5,489.1 315.6,489.9 317.7,487.5 319.9,487.5 322.0,489.1 324.1,488.3 326.3,489.5 328.4,488.3 330.5,490.4 332.7,488.3 334.8,488.3 336.9,489.9 339.1,487.5 341.2,487.5 362.5,487.5 364.7,487.5 366.8,486.7 368.9,488.3 371.1,489.1 373.2,486.3 375.3,487.5 377.5,489.9 379.6,489.1 381.7,487.5 383.9,487.5 386.0,488.3 388.1,488.3 390.3,487.5 392.4,487.5 394.5,487.5 396.6,486.7 398.8,487.5 400.9,489.1 403.0,488.3 405.2,488.3 407.3,488.3 409.4,487.5 411.6,487.5 413.7,486.7 415.8,489.1 418.0,489.1 420.1,485.4 422.2,488.3 424.4,486.7 426.5,490.7 428.6,488.3 430.8,488.3 432.9,489.1 435.0,488.3 437.2,486.7 439.3,487.5 441.4,486.7 443.6,490.8 445.7,488.3 447.8,489.1 450.0,489.1 452.1,488.3 454.2,488.3 456.4,489.1 458.5,488.3 460.6,487.5 462.8,488.3 464.9,487.5 467.0,489.1 469.2,489.1 471.3,486.7 473.4,489.1 475.6,487.5 477.7,489.1 479.8,489.9 482.0,488.3 484.1,487.5 486.2,488.3 488.4,488.3 490.5,487.5 492.6,489.1 494.8,488.3 496.9,487.5 499.0,489.1 501.2,489.1 503.3,487.5 505.4,489.1 507.6,487.5 509.7,488.3 511.8,487.5 514.0,488.3 516.1,486.7 518.2,485.9 520.4,489.1 522.5,487.5 524.6,488.3 526.8,489.1 528.9,487.5 531.0,489.1 533.2,488.3 535.3,487.5 537.4,489.1 539.6,488.3 541.7,488.3 543.8,488.3 546.0,484.1 548.1,488.3 550.2,488.3 552.4,488.3 554.5,489.1 556.6,488.3 558.8,487.5 560.9,487.5 563.0,487.5 565.2,489.1 567.3,489.9 569.4,486.7 571.6,488.3 573.7,488.3 575.8,488.3 578.0,486.7 580.1,486.7 582.2,488.3 584.4,488.3 586.5,489.1 588.6,487.5 590.8,489.1 592.9,489.9 595.0,489.1 597.2,489.1 599.3,489.1 601.4,489.1 603.6,487.5 605.7,488.3 607.8,489.1 610.0,486.7 612.1,488.3 614.2,486.7 616.4,488.3 618.5,489.1 620.6,488.3 622.8,489.1 624.9,488.3 627.0,488.3 629.2,488.3 631.3,487.5 633.4,489.1 635.6,489.1 637.7,488.3 639.8,489.1 642.0,488.3 644.1,487.5 646.2,488.3 648.4,488.3 650.5,488.3 652.6,487.5 654.8,487.5 656.9,487.5 659.0,488.3 661.2,489.1 663.3,487.5 665.4,488.3 667.6,487.5 669.7,488.3 671.8,488.3 674.0,487.5 676.1,487.5 678.2,487.5 680.4,487.5 682.5,488.3 684.6,488.3 686.8,489.9 688.9,490.7 691.0,487.5 693.2,489.1 695.3,488.3 697.4,487.5 699.6,488.3 701.7,490.7 703.8,488.3 706.0,489.9 708.1,489.1 710.2,487.5 712.4,489.1 714.5,487.5 716.6,487.5 718.8,486.7 720.9,488.3 723.0,489.1 725.2,488.3 727.3,487.5 729.4,487.5 731.6,487.5 733.7,488.3 735.8,487.5 738.0,488.3 740.1,488.3 742.2,488.3 744.3,486.7 746.5,487.5 748.6,489.9 750.7,488.3 752.9,488.3 755.0,486.7 757.1,488.3 759.3,489.1 761.4,487.5 763.5,487.5 765.7,487.5 767.8,487.5 769.9,487.5 772.1,488.3 774.2,488.3 776.3,488.3 778.5,488.3 780.6,487.5 782.7,487.5 784.9,482.9 787.0,488.3 789.1,487.5 791.3,487.5 793.4,489.1 795.5,489.1 797.7,490.7 799.8,491.5 801.9,487.5 804.1,488.3 806.2,489.1 808.3,488.3 810.5,488.3 812.6,488.3 814.7,487.5 816.9,489.9 819.0,489.1 821.1,489.1 823.3,488.3 825.4,486.7 827.5,489.1 829.7,489.1 831.8,488.3 833.9,487.5 836.1,487.5 838.2,488.3 840.3,489.1 842.5,488.3 844.6,487.5 846.7,487.5 848.9,488.3 851.0,488.3 853.1,487.5 855.3,488.3 857.4,489.1 859.5,489.1 861.7,489.9 863.8,489.1 865.9,489.1 868.1,489.9 870.2,488.3 872.3,488.3 874.5,488.3 876.6,488.3 878.7,489.9 880.9,489.1 883.0,489.1 885.1,488.3 887.3,488.3 889.4,488.3 891.5,489.1 893.7,489.1 895.8,486.7 897.9,487.5 900.1,487.5 902.2,487.5 904.3,487.5 906.5,489.1 908.6,488.3 910.7,487.5 912.9,488.3 915.0,488.3 917.1,488.3 919.3,489.1 921.4,489.1 923.5,489.1 925.7,487.5 927.8,489.1 929.9,487.5 932.1,487.5 934.2,487.5 936.3,487.5 938.5,486.7 940.6,493.1 942.7,488.3 944.9,488.3 947.0,487.5 949.1,487.5 951.3,487.5 953.4,485.9 955.5,486.7 957.7,487.5 959.8,488.3 961.9,489.1 964.1,489.9 966.2,489.1 968.3,487.5 970.5,487.5 972.6,489.1 974.7,489.1 976.9,488.3 979.0,484.3 981.1,488.3 983.3,488.3 985.4,488.3 987.5,488.3 989.7,489.1 991.8,487.5 993.9,487.5 996.1,491.9 998.2,488.3 1000.3,486.7 1002.5,489.9 1004.6,489.1 1006.7,486.7 1008.9,488.3 1011.0,487.5 1013.1,487.5 1015.3,488.3 1017.4,488.3 1019.5,489.9 1021.7,489.1 1023.8,488.3 1025.9,490.7 1028.1,488.3 1030.2,487.5 1032.3,488.3 1034.5,488.3 1036.6,487.5 1038.7,488.3 1040.9,489.1 1043.0,489.1 1045.1,485.1 1047.3,489.1 1049.4,488.3 1051.5,488.3 1053.7,488.3 1055.8,487.5 1057.9,488.3 1060.1,488.3 1062.2,488.3 1064.3,489.1 1066.5,489.1 1068.6,489.1 1070.7,489.9 1072.9,489.1 1075.0,487.5 1077.1,488.3 1079.2,488.3 1081.4,489.1 1083.5,489.9 1085.6,488.3 1087.8,489.1 1089.9,489.1 1092.0,489.1 1094.2,488.3 1096.3,488.3 1098.4,489.1 1100.6,489.1 1102.7,494.7 1104.8,488.3 1107.0,487.5 1109.1,488.3 1111.2,489.1 1113.4,489.1 1115.5,488.3 1117.6,488.3 1119.8,487.5 1121.9,487.5 1124.0,489.1 1126.2,489.1 1128.3,488.3 1130.4,488.3 1132.6,489.1 1134.7,489.1 1136.8,487.5 1139.0,488.3 1141.1,489.1 1143.2,488.3 1145.4,489.1 1147.5,488.3 1149.6,489.1 1151.8,489.1 1153.9,488.3 1156.0,488.3 1158.2,488.3 1160.3,488.3 1162.4,489.1 1164.6,488.3 1166.7,488.3 1168.8,486.7 1171.0,487.5 1173.1,487.5 1175.2,486.7 1177.4,487.5 1179.5,487.5 1181.6,487.5 1183.8,485.9 1185.9,487.5 1188.0,488.3 1190.2,488.3 1192.3,487.5 1194.4,488.3 1196.6,489.1 1198.7,489.1 1200.8,488.3 1203.0,488.3 1205.1,487.5 1207.2,488.3 1209.4,489.1 1211.5,489.1 1213.6,487.5 1215.8,488.3 1217.9,488.3 1220.0,487.5 1222.2,487.5 1224.3,486.7 1226.4,487.5 1228.6,488.3 1230.7,488.3 1232.8,488.3 1235.0,488.3 1237.1,488.3 1239.2,488.3 1241.4,488.3 1243.5,488.3 1245.6,486.7 1247.8,488.3 1249.9,488.3 1252.0,488.3 1254.2,488.3 1256.3,488.3 1258.4,489.1 1260.6,488.3 1262.7,487.5 1264.8,489.1 1267.0,488.3 1269.1,486.7 1271.2,489.9 1273.4,489.1 1275.5,488.3 1277.6,486.7 1279.8,488.3 1281.9,487.5 1284.0,489.1 1286.2,488.3 1288.3,489.1 1290.4,489.1 1292.6,487.5 1294.7,487.5 1296.8,488.3 1299.0,488.3 1301.1,489.1 1303.2,488.3 1305.4,489.9 1307.5,489.1 1309.6,488.3 1311.8,488.3 1313.9,487.5 1320.3,489.1 1322.4,488.3 1324.6,487.5 1326.7,488.3 1328.8,489.1 1331.0,489.1 1333.1,489.1 1335.2,486.7 1337.4,488.3 1339.5,488.3"/>
<polyline points="226.0,521.9 228.1,518.7 230.3,522.7 232.4,522.7 234.5,521.1 236.7,524.3 238.8,521.9 240.9,520.3 243.1,521.1 245.2,518.7 247.3,518.7 249.5,521.1 251.6,520.3 253.7,523.5 255.9,521.1 258.0,519.5 260.1,517.9 262.3,517.1 264.4,520.3 266.5,521.1 268.7,521.1 270.8,521.1 272.9,520.3 275.1,523.5 277.2,521.1 279.3,520.3 281.5,522.7 283.6,521.1 285.7,520.3 287.9,519.5 290.0,521.9 292.1,522.7 294.3,521.9 296.4,521.9 298.5,520.3 300.7,520.3 302.8,521.1 304.9,522.7 307.1,521.1 309.2,521.9 311.3,519.5 313.5,521.9 315.6,521.1 317.7,521.1 319.9,521.1 322.0,521.1 324.1,520.3 326.3,520.3 328.4,520.3 330.5,521.1 332.7,520.3 334.8,519.5 336.9,521.1 339.1,521.1 341.2,520.3 362.5,521.9 364.7,520.3 366.8,521.1 368.9,521.1 371.1,521.9 373.2,520.3 375.3,520.3 377.5,525.6 379.6,521.1 381.7,521.1 383.9,521.1 386.0,526.8 388.1,521.1 390.3,521.9 392.4,521.1 394.5,521.9 396.6,521.9 398.8,521.9 400.9,521.1 403.0,518.7 405.2,521.1 407.3,521.1 409.4,520.3 411.6,521.1 413.7,521.9 415.8,521.9 418.0,520.3 420.1,521.1 422.2,520.3 424.4,521.1 426.5,520.3 428.6,521.9 430.8,521.1 432.9,522.7 435.0,521.1 437.2,517.9 439.3,522.7 441.4,521.1 443.6,521.1 445.7,521.1 447.8,521.9 450.0,521.9 452.1,521.1 454.2,521.1 456.4,521.9 458.5,514.5 460.6,521.9 462.8,518.7 464.9,521.9 467.0,521.1 469.2,521.9 471.3,520.3 473.4,520.3 475.6,521.1 477.7,521.9 479.8,522.7 482.0,521.1 484.1,515.6 486.2,521.9 488.4,522.7 490.5,521.1 492.6,521.1 494.8,521.9 496.9,521.1 499.0,520.3 501.2,521.1 503.3,520.3 505.4,521.1 507.6,521.1 509.7,516.8 511.8,521.9 514.0,520.3 516.1,520.3 518.2,521.9 520.4,521.1 522.5,521.1 524.6,520.3 526.8,521.1 528.9,521.1 531.0,520.3 533.2,521.9 535.3,521.1 537.4,519.5 539.6,521.1 541.7,521.1 543.8,520.3 546.0,519.5 548.1,519.5 550.2,520.3 552.4,520.3 554.5,520.3 556.6,520.3 558.8,521.1 560.9,521.9 563.0,521.9 565.2,521.9 567.3,521.9 569.4,521.9 571.6,521.1 573.7,520.3 575.8,520.3 578.0,521.1 580.1,521.9 582.2,521.1 584.4,520.3 586.5,521.1 588.6,520.3 590.8,520.3 592.9,520.3 595.0,521.9 597.2,521.1 599.3,521.9 601.4,521.1 603.6,522.7 605.7,521.1 607.8,521.1 610.0,521.9 612.1,520.3 614.2,521.1 616.4,519.5 618.5,521.1 620.6,520.3 622.8,521.1 624.9,521.1 627.0,520.3 629.2,521.1 631.3,520.3 633.4,521.1 635.6,521.1 637.7,521.9 639.8,520.3 642.0,521.9 644.1,521.1 646.2,521.1 648.4,520.3 650.5,520.3 652.6,521.1 654.8,520.3 656.9,521.1 659.0,521.1 661.2,521.1 663.3,521.1 665.4,520.3 667.6,521.1 669.7,521.1 671.8,519.5 674.0,519.5 676.1,521.9 678.2,522.7 680.4,521.9 682.5,521.9 684.6,520.3 686.8,519.5 688.9,519.5 691.0,520.3 693.2,522.7 695.3,521.9 697.4,521.1 699.6,521.1 701.7,521.9 703.8,521.9 706.0,520.3 708.1,519.5 710.2,515.9 712.4,518.7 714.5,520.3 716.6,519.5 718.8,521.1 720.9,526.7 723.0,520.3 725.2,519.5 727.3,521.1 729.4,521.1 731.6,520.3 733.7,521.1 735.8,521.1 738.0,520.3 740.1,521.1 742.2,520.3 744.3,521.1 746.5,521.9 748.6,521.9 750.7,521.1 752.9,521.9 755.0,523.5 757.1,522.7 759.3,520.3 761.4,520.3 763.5,520.3 765.7,521.1 767.8,521.1 769.9,519.5 772.1,521.1 774.2,519.5 776.3,519.5 778.5,519.5 780.6,519.5 782.7,521.9 784.9,520.3 787.0,520.3 789.1,520.3 791.3,522.7 793.4,521.1 795.5,521.1 797.7,522.7 799.8,521.9 801.9,521.9 804.1,521.1 806.2,520.3 808.3,521.1 810.5,520.3 812.6,521.1 814.7,521.1 816.9,521.9 819.0,520.3 821.1,520.3 823.3,521.1 825.4,521.1 827.5,521.1 829.7,521.1 831.8,521.1 833.9,521.1 836.1,523.5 838.2,521.9 840.3,520.3 842.5,521.9 844.6,519.5 846.7,521.1 848.9,521.1 851.0,521.1 853.1,521.9 855.3,521.1 857.4,520.3 859.5,521.1 861.7,520.3 863.8,520.3 865.9,521.1 868.1,521.9 870.2,522.7 872.3,521.9 874.5,516.2 876.6,521.9 878.7,522.7 880.9,523.5 883.0,522.7 885.1,522.7 887.3,521.1 889.4,522.7 891.5,521.9 893.7,521.9 895.8,522.7 897.9,521.9 900.1,520.3 902.2,520.3 904.3,520.3 906.5,521.9 908.6,520.3 910.7,521.9 912.9,520.3 915.0,521.1 917.1,521.1 919.3,521.9 921.4,519.5 923.5,521.9 925.7,521.9 927.8,521.1 929.9,521.9 932.1,521.1 934.2,521.9 936.3,519.5 938.5,519.5 940.6,521.1 942.7,520.3 944.9,521.9 947.0,521.1 949.1,520.3 951.3,520.3 953.4,521.1 955.5,520.3 957.7,521.1 959.8,522.7 961.9,521.9 964.1,521.1 966.2,521.1 968.3,522.7 970.5,521.1 972.6,521.1 974.7,520.3 976.9,520.3 979.0,519.5 981.1,520.3 983.3,521.9 985.4,521.1 987.5,521.9 989.7,521.1 991.8,519.5 993.9,519.5 996.1,520.3 998.2,521.1 1000.3,521.1 1002.5,520.3 1004.6,521.1 1006.7,521.1 1008.9,520.3 1011.0,521.1 1013.1,522.7 1015.3,521.9 1017.4,521.9 1019.5,520.3 1021.7,521.1 1023.8,521.9 1025.9,522.7 1028.1,522.7 1030.2,522.7 1032.3,527.5 1034.5,520.3 1036.6,520.3 1038.7,521.1 1040.9,521.1 1043.0,520.3 1045.1,519.5 1047.3,520.3 1049.4,521.9 1051.5,522.7 1053.7,522.7 1055.8,523.5 1057.9,521.9 1060.1,521.9 1062.2,521.9 1064.3,521.1 1066.5,521.9 1068.6,521.9 1070.7,521.9 1072.9,521.1 1075.0,521.1 1077.1,520.3 1079.2,520.3 1081.4,521.1 1083.5,522.7 1085.6,521.1 1087.8,521.9 1089.9,521.1 1092.0,521.1 1094.2,521.1 1096.3,521.9 1098.4,520.3 1100.6,521.9 1102.7,520.3 1104.8,521.1 1107.0,521.9 1109.1,520.3 1111.2,520.3 1113.4,518.7 1115.5,520.3 1117.6,521.1 1119.8,521.9 1121.9,521.1 1124.0,521.1 1126.2,521.9 1128.3,520.3 1130.4,521.1 1132.6,520.3 1134.7,521.9 1136.8,521.9 1139.0,521.1 1141.1,521.1 1143.2,521.1 1145.4,521.1 1147.5,520.3 1149.6,520.3 1151.8,520.3 1153.9,519.5 1156.0,520.3 1158.2,521.1 1160.3,520.3 1162.4,521.1 1164.6,520.3 1166.7,521.1 1168.8,521.1 1171.0,521.1 1173.1,521.1 1175.2,518.7 1177.4,520.3 1179.5,520.3 1181.6,520.3 1183.8,521.1 1185.9,520.3 1188.0,519.5 1190.2,519.5 1192.3,520.3 1194.4,521.1 1196.6,521.1 1198.7,521.1 1200.8,521.1 1203.0,521.9 1205.1,521.1 1207.2,520.3 1209.4,521.1 1211.5,523.4 1213.6,519.5 1215.8,521.1 1217.9,520.3 1220.0,521.1 1222.2,521.1 1224.3,521.9 1226.4,521.9 1228.6,521.9 1230.7,521.1 1232.8,520.3 1235.0,520.3 1237.1,521.1 1239.2,520.3 1241.4,521.1 1243.5,521.9 1245.6,521.1 1247.8,521.1 1249.9,521.9 1252.0,519.5 1254.2,519.5 1256.3,521.9 1258.4,521.1 1260.6,521.1 1262.7,521.1 1264.8,519.5 1267.0,520.3 1269.1,521.9 1271.2,521.1 1273.4,522.7 1275.5,521.9 1277.6,521.9 1279.8,520.3 1281.9,521.1 1284.0,521.9 1286.2,521.9 1288.3,521.1 1290.4,519.5 1292.6,520.3 1294.7,520.3 1296.8,519.5 1299.0,521.1 1301.1,519.5 1303.2,520.3 1305.4,520.3 1307.5,520.3 1309.6,521.1 1311.8,521.1 1320.3,521.1 1322.4,520.3 1324.6,520.3 1326.7,520.3 1328.8,521.1 1331.0,522.7 1333.1,521.1 1335.2,521.1 1337.4,521.9 1339.5,520.3"/>
<polyline points="226.0,553.8 228.1,553.8 230.3,554.7 232.4,552.8 234.5,553.8 236.7,554.3 238.8,553.8 240.9,554.3 243.1,552.8 245.2,556.3 247.3,556.3 249.5,553.8 251.6,553.8 253.7,553.3 255.9,551.9 258.0,553.8 260.1,552.3 262.3,550.9 264.4,556.3 266.5,550.9 268.7,553.3 270.8,556.3 272.9,552.8 275.1,553.8 277.2,553.3 279.3,554.3 281.5,553.8 283.6,550.3 285.7,553.3 287.9,552.3 290.0,556.3 292.1,553.3 294.3,549.6 296.4,556.3 298.5,553.8 300.7,553.3 302.8,552.8 304.9,553.3 307.1,552.8 309.2,554.7 311.3,553.8 313.5,553.3 315.6,552.8 317.7,556.3 319.9,552.8 322.0,553.3 324.1,552.8 326.3,552.8 328.4,553.8 330.5,554.3 332.7,553.8 334.8,552.8 336.9,552.3 339.1,554.7 341.2,553.8 364.7,552.8 366.8,553.3 368.9,554.3 371.1,553.8 373.2,553.3 375.3,553.3 377.5,553.3 379.6,553.8 407.3,553.3 413.7,552.8 415.8,556.3 418.0,553.8 420.1,551.9 422.2,552.3 424.4,552.3 426.5,556.3 430.8,552.8 432.9,553.3 435.0,553.8 464.9,556.3 467.0,552.8 471.3,552.3 473.4,552.3 475.6,552.8 477.7,553.8 479.8,556.3 482.0,552.8 484.1,552.3 511.8,552.8 518.2,553.8 520.4,556.3 522.5,553.3 524.6,556.3 526.8,553.3 528.9,553.3 531.0,553.8 533.2,553.3 535.3,552.8 537.4,552.3 573.7,553.3 575.8,553.8 578.0,553.8 580.1,553.3 582.2,552.8 584.4,553.3 586.5,553.3 588.6,553.8 590.8,554.3 620.6,552.8 622.8,553.3 624.9,556.3 627.0,553.8 629.2,553.3 631.3,553.3 633.4,553.8 635.6,552.8 637.7,556.3 639.8,553.8 642.0,554.3 674.0,552.8 676.1,553.3 678.2,553.3 680.4,552.3 682.5,552.8 684.6,553.3 686.8,553.3 688.9,552.3 691.0,553.8 693.2,553.3 695.3,553.8 697.4,553.3 699.6,553.3 725.2,555.4 727.3,554.3 731.6,556.3 733.7,553.3 735.8,553.3 738.0,554.3 740.1,552.8 742.2,552.8 744.3,553.3 746.5,553.3 748.6,553.8 750.7,553.8 755.0,552.8 761.4,552.8 776.3,553.8 782.7,553.8 784.9,553.3 787.0,553.3 789.1,552.8 791.3,553.3 793.4,552.8 795.5,552.3 797.7,553.3 799.8,553.8 801.9,554.3 806.2,553.3 829.7,556.3 833.9,551.9 836.1,552.3 838.2,552.8 840.3,552.8 842.5,552.8 844.6,553.3 846.7,553.3 848.9,553.8 851.0,553.3 853.1,553.3 857.4,554.3 874.5,552.3 878.7,552.8 880.9,553.3 883.0,552.8 885.1,553.8 887.3,553.8 889.4,553.8 891.5,554.3 893.7,551.9 895.8,552.3 897.9,553.3 900.1,553.8 902.2,556.3 904.3,553.3 906.5,552.8 912.9,552.8 915.0,553.3 923.5,553.8 925.7,556.3 927.8,553.3 929.9,553.3 932.1,553.3 934.2,552.8 936.3,552.8 938.5,552.8 940.6,552.8 942.7,552.8 944.9,552.8 947.0,552.8 949.1,552.3 951.3,554.3 953.4,553.8 955.5,553.3 957.7,553.8 959.8,553.3 961.9,554.3 964.1,552.8 966.2,553.3 968.3,552.8 970.5,553.3 972.6,552.8 974.7,553.8 976.9,553.8 979.0,552.8 981.1,552.8 983.3,552.8 985.4,553.8 987.5,554.3 989.7,553.8 991.8,553.8 993.9,554.3 996.1,553.8 998.2,553.3 1000.3,553.3 1004.6,554.3 1006.7,553.8 1008.9,553.3 1011.0,552.3 1013.1,549.8 1015.3,553.8 1017.4,554.3 1021.7,553.8 1025.9,552.8 1028.1,553.3 1030.2,553.8 1032.3,553.3 1034.5,552.8 1036.6,552.3 1038.7,552.8 1040.9,553.3 1043.0,552.8 1045.1,553.3 1049.4,552.8 1051.5,553.8 1057.9,553.3 1064.3,553.3 1066.5,553.3 1068.6,553.3 1070.7,554.2 1072.9,552.8 1075.0,552.8 1079.2,554.7 1081.4,553.8 1083.5,555.2 1085.6,553.8 1087.8,554.3 1089.9,554.3 1092.0,552.8 1094.2,553.8 1096.3,552.8 1128.3,553.8 1130.4,553.3 1132.6,553.3 1134.7,553.8 1136.8,553.3 1139.0,552.8 1141.1,553.8 1143.2,552.8 1145.4,553.3 1147.5,553.3 1149.6,553.3 1173.1,552.8 1179.5,553.8 1181.6,552.3 1183.8,552.8 1185.9,553.3 1188.0,556.3 1190.2,552.8 1192.3,553.8 1194.4,552.8 1196.6,552.8 1198.7,553.3 1200.8,553.8 1222.2,553.8 1226.4,552.8 1232.8,553.3 1235.0,553.8 1237.1,552.3 1239.2,553.3 1241.4,553.3 1243.5,553.8 1245.6,552.8 1247.8,553.3 1249.9,553.3 1252.0,552.8 1254.2,553.3 1271.2,552.8 1275.5,553.8 1277.6,552.8 1284.0,553.3 1286.2,556.3 1288.3,553.3 1290.4,554.3 1292.6,553.8 1294.7,553.8 1296.8,553.8 1299.0,553.3 1301.1,552.3 1303.2,553.3 1305.4,553.3 1307.5,553.3 1331.0,553.3 1337.4,553.3"/>
</g>
<rect x="1411" y="90" width="25" height="510" fill="url(#cb)"/>
<g fill="none" stroke="#000" stroke-width="1.667">
<rect x="225" y="90" width="1116" height="510" stroke-linejoin="miter"/>
<rect x="1411" y="90" width="25" height="510"/>
<path d="M218 94H225M218 160H225M218 225H225M218 291H225M218 357H225M218 423H225M218 488H225M218 554H225M226 600V607M431 600V607M636 600V607M840 600V607M1045 600V607M1250 600V607M1436 600H1443M1436 533H1443M1436 466H1443M1436 399H1443M1436 332H1443M1436 264H1443M1436 197H1443M1436 130H1443"/>
</g>
</svg>
<div class="t" style="left:515.50px;top:55.80px;font-size:26.60px;transform-origin:0 50%;transform:scale(0.9905,1.0000)">pH</div>
<div class="t" style="left:558.50px;top:55.80px;font-size:26.60px;transform-origin:0 50%;transform:scale(1.0900,1.0000)">in-situ</div>
<div class="t" style="left:643.50px;top:55.80px;font-size:26.60px;transform-origin:0 50%;transform:scale(1.0485,1.0000)">(pH)</div>
<div class="t" style="left:707.50px;top:55.80px;font-size:26.60px;transform-origin:0 50%;transform:scale(1.0896,1.0000)">|</div>
<div class="t" style="left:722.50px;top:55.80px;font-size:26.60px;transform-origin:0 50%;transform:scale(1.1006,1.0000)">monthly</div>
<div class="t" style="left:833.50px;top:55.80px;font-size:26.60px;transform-origin:0 50%;transform:scale(1.1026,1.0000)">curtain</div>
<div class="t" style="left:930.50px;top:55.80px;font-size:26.60px;transform-origin:0 50%;transform:scale(1.0896,1.0000)">|</div>
<div class="t" style="left:946.50px;top:55.80px;font-size:26.60px;transform-origin:0 50%;transform:scale(1.0789,1.0000)">2021-11</div>
<div class="t" style="left:758.00px;top:697.95px;font-size:22.70px;transform-origin:0 50%;transform:scale(1.0126,1.0000)">Hour</div>
<div class="t" style="left:153.00px;top:399.00px;font-size:21.70px;transform-origin:0 0;transform:rotate(-90deg) scale(1.1000,1.0000)">Depth (m)</div>
<div class="t" style="left:1503.00px;top:447.00px;font-size:21.70px;transform-origin:0 0;transform:rotate(-90deg) scale(1.0780,1.0000)">pH in-situ (pH) (pH)</div>
<div class="t" style="right:1589.40px;top:83.84px;font-size:23.06px;transform-origin:100% 50%;transform:scale(0.9879,1.0000)">0</div>
<div class="t" style="right:1590.40px;top:149.56px;font-size:23.06px;transform-origin:100% 50%;transform:scale(0.8981,1.0000)">2</div>
<div class="t" style="right:1590.40px;top:214.29px;font-size:23.06px;transform-origin:100% 50%;transform:scale(0.9131,1.0000)">4</div>
<div class="t" style="right:1589.40px;top:280.01px;font-size:23.06px;transform-origin:100% 50%;transform:scale(0.9879,1.0000)">6</div>
<div class="t" style="right:1589.40px;top:346.73px;font-size:23.06px;transform-origin:100% 50%;transform:scale(0.9879,1.0000)">8</div>
<div class="t" style="right:1591.40px;top:412.45px;font-size:23.06px;transform-origin:100% 50%;transform:scale(0.9449,1.0000)">10</div>
<div class="t" style="right:1591.40px;top:477.17px;font-size:23.06px;transform-origin:100% 50%;transform:scale(0.9449,1.0000)">12</div>
<div class="t" style="right:1590.40px;top:543.89px;font-size:23.06px;transform-origin:100% 50%;transform:scale(0.9898,1.0000)">14</div>
<div class="t" style="left:1452.50px;top:589.90px;font-size:23.06px;transform-origin:0 50%;transform:scale(0.9635,1.0000)">7.00</div>
<div class="t" style="left:1452.50px;top:522.79px;font-size:23.06px;transform-origin:0 50%;transform:scale(0.9635,1.0000)">7.25</div>
<div class="t" style="left:1452.50px;top:455.69px;font-size:23.06px;transform-origin:0 50%;transform:scale(0.9635,1.0000)">7.50</div>
<div class="t" style="left:1452.50px;top:388.58px;font-size:23.06px;transform-origin:0 50%;transform:scale(0.9635,1.0000)">7.75</div>
<div class="t" style="left:1450.50px;top:321.48px;font-size:23.06px;transform-origin:0 50%;transform:scale(0.9859,1.0000)">8.00</div>
<div class="t" style="left:1450.50px;top:253.37px;font-size:23.06px;transform-origin:0 50%;transform:scale(0.9864,1.0000)">8.25</div>
<div class="t" style="left:1450.50px;top:186.27px;font-size:23.06px;transform-origin:0 50%;transform:scale(0.9859,1.0000)">8.50</div>
<div class="t" style="left:1450.50px;top:119.16px;font-size:23.06px;transform-origin:0 50%;transform:scale(0.9864,1.0000)">8.75</div>
<div class="t" style="right:1575.00px;top:611.00px;font-size:21.70px;transform-origin:100% 100%;transform:rotate(-30deg) scale(1.1000,1.0000)">2021-11-01</div>
<div class="t" style="right:1370.20px;top:611.00px;font-size:21.70px;transform-origin:100% 100%;transform:rotate(-30deg) scale(1.1000,1.0000)">2021-11-05</div>
<div class="t" style="right:1165.40px;top:611.00px;font-size:21.70px;transform-origin:100% 100%;transform:rotate(-30deg) scale(1.1000,1.0000)">2021-11-09</div>
<div class="t" style="right:960.70px;top:611.00px;font-size:21.70px;transform-origin:100% 100%;transform:rotate(-30deg) scale(1.1000,1.0000)">2021-11-13</div>
<div class="t" style="right:755.90px;top:611.00px;font-size:21.70px;transform-origin:100% 100%;transform:rotate(-30deg) scale(1.1000,1.0000)">2021-11-17</div>
<div class="t" style="right:551.10px;top:611.00px;font-size:21.70px;transform-origin:100% 100%;transform:rotate(-30deg) scale(1.1000,1.0000)">2021-11-21</div>
</body></html>
